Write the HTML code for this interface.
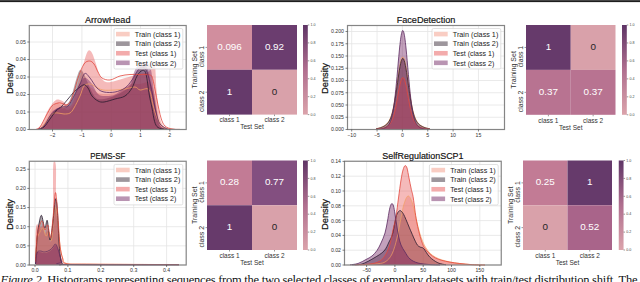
<!DOCTYPE html>
<html><head><meta charset="utf-8"><style>html,body{margin:0;padding:0;background:#fff;overflow:hidden}svg{display:block}</style></head>
<body><svg width="640" height="282" viewBox="0 0 640 282" font-family='"Liberation Sans", sans-serif'><rect x="0" y="0" width="640" height="282" fill="#fff"/>
<rect x="0" y="0" width="640" height="1" fill="#464646"/>
<rect x="0" y="1" width="640" height="1" fill="#1e1e1e"/>
<rect x="0" y="2" width="640" height="1" fill="#e6e6e6"/>
<rect x="29.3" y="25.5" width="156.89999999999998" height="104.0" fill="#fff"/>
<line x1="52.5" y1="25.5" x2="52.5" y2="129.5" stroke="#e4e4e4" stroke-width="0.8"/>
<line x1="81.9" y1="25.5" x2="81.9" y2="129.5" stroke="#e4e4e4" stroke-width="0.8"/>
<line x1="111.2" y1="25.5" x2="111.2" y2="129.5" stroke="#e4e4e4" stroke-width="0.8"/>
<line x1="140.5" y1="25.5" x2="140.5" y2="129.5" stroke="#e4e4e4" stroke-width="0.8"/>
<line x1="169.8" y1="25.5" x2="169.8" y2="129.5" stroke="#e4e4e4" stroke-width="0.8"/>
<line x1="29.3" y1="129.5" x2="186.2" y2="129.5" stroke="#e4e4e4" stroke-width="0.8"/>
<line x1="29.3" y1="112.0" x2="186.2" y2="112.0" stroke="#e4e4e4" stroke-width="0.8"/>
<line x1="29.3" y1="94.5" x2="186.2" y2="94.5" stroke="#e4e4e4" stroke-width="0.8"/>
<line x1="29.3" y1="77.0" x2="186.2" y2="77.0" stroke="#e4e4e4" stroke-width="0.8"/>
<line x1="29.3" y1="59.5" x2="186.2" y2="59.5" stroke="#e4e4e4" stroke-width="0.8"/>
<line x1="29.3" y1="42.0" x2="186.2" y2="42.0" stroke="#e4e4e4" stroke-width="0.8"/>
<path d="M40.00,129.40 C41.00,127.83 44.00,123.57 46.00,120.00 C48.00,116.43 50.17,110.83 52.00,108.00 C53.83,105.17 55.33,103.33 57.00,103.00 C58.67,102.67 60.17,104.83 62.00,106.00 C63.83,107.17 66.00,110.33 68.00,110.00 C70.00,109.67 72.00,107.00 74.00,104.00 C76.00,101.00 78.00,95.00 80.00,92.00 C82.00,89.00 84.00,86.67 86.00,86.00 C88.00,85.33 90.00,86.83 92.00,88.00 C94.00,89.17 95.33,92.00 98.00,93.00 C100.67,94.00 105.00,94.17 108.00,94.00 C111.00,93.83 113.33,93.00 116.00,92.00 C118.67,91.00 121.33,89.33 124.00,88.00 C126.67,86.67 129.33,84.67 132.00,84.00 C134.67,83.33 137.33,84.33 140.00,84.00 C142.67,83.67 146.00,81.67 148.00,82.00 C150.00,82.33 150.83,83.67 152.00,86.00 C153.17,88.33 154.00,91.00 155.00,96.00 C156.00,101.00 157.00,111.00 158.00,116.00 C159.00,121.00 159.33,123.77 161.00,126.00 C162.67,128.23 166.83,128.83 168.00,129.40 L168,129.5 L40,129.5 Z" fill="#f19381" fill-opacity="0.4"/><path d="M40.00,129.40 C41.00,128.50 44.00,126.57 46.00,124.00 C48.00,121.43 50.00,116.67 52.00,114.00 C54.00,111.33 56.00,109.33 58.00,108.00 C60.00,106.67 62.00,107.33 64.00,106.00 C66.00,104.67 68.00,104.33 70.00,100.00 C72.00,95.67 74.33,85.00 76.00,80.00 C77.67,75.00 78.67,71.00 80.00,70.00 C81.33,69.00 82.33,71.00 84.00,74.00 C85.67,77.00 88.00,84.00 90.00,88.00 C92.00,92.00 93.67,96.17 96.00,98.00 C98.33,99.83 101.00,99.33 104.00,99.00 C107.00,98.67 111.00,97.17 114.00,96.00 C117.00,94.83 119.33,93.67 122.00,92.00 C124.67,90.33 127.83,88.83 130.00,86.00 C132.17,83.17 133.33,78.00 135.00,75.00 C136.67,72.00 138.17,69.50 140.00,68.00 C141.83,66.50 144.33,64.33 146.00,66.00 C147.67,67.67 148.67,72.67 150.00,78.00 C151.33,83.33 152.83,91.67 154.00,98.00 C155.17,104.33 156.00,111.33 157.00,116.00 C158.00,120.67 158.50,123.77 160.00,126.00 C161.50,128.23 165.00,128.83 166.00,129.40 L166,129.5 L40,129.5 Z" fill="#352533" fill-opacity="0.4"/><path d="M36.00,129.40 C37.00,128.50 40.17,126.90 42.00,124.00 C43.83,121.10 45.33,115.33 47.00,112.00 C48.67,108.67 50.50,106.00 52.00,104.00 C53.50,102.00 54.67,100.67 56.00,100.00 C57.33,99.33 58.67,99.67 60.00,100.00 C61.33,100.33 62.67,101.00 64.00,102.00 C65.33,103.00 66.67,105.67 68.00,106.00 C69.33,106.33 70.67,106.33 72.00,104.00 C73.33,101.67 74.67,96.67 76.00,92.00 C77.33,87.33 78.67,81.00 80.00,76.00 C81.33,71.00 82.67,66.17 84.00,62.00 C85.33,57.83 86.67,52.50 88.00,51.00 C89.33,49.50 90.67,50.83 92.00,53.00 C93.33,55.17 94.67,60.17 96.00,64.00 C97.33,67.83 98.33,73.00 100.00,76.00 C101.67,79.00 103.50,81.17 106.00,82.00 C108.50,82.83 111.83,81.67 115.00,81.00 C118.17,80.33 122.17,78.83 125.00,78.00 C127.83,77.17 129.50,76.67 132.00,76.00 C134.50,75.33 137.33,74.67 140.00,74.00 C142.67,73.33 146.00,73.00 148.00,72.00 C150.00,71.00 150.83,69.00 152.00,68.00 C153.17,67.00 154.25,62.33 155.00,66.00 C155.75,69.67 155.83,82.33 156.50,90.00 C157.17,97.67 158.08,106.33 159.00,112.00 C159.92,117.67 160.50,121.33 162.00,124.00 C163.50,126.67 165.33,127.10 168.00,128.00 C170.67,128.90 176.33,129.17 178.00,129.40 L178,129.5 L36,129.5 Z" fill="#e55353" fill-opacity="0.4"/><path d="M40.00,129.40 C41.00,128.17 44.00,124.90 46.00,122.00 C48.00,119.10 50.00,114.33 52.00,112.00 C54.00,109.67 56.00,108.67 58.00,108.00 C60.00,107.33 62.00,108.67 64.00,108.00 C66.00,107.33 68.00,106.67 70.00,104.00 C72.00,101.33 74.00,96.00 76.00,92.00 C78.00,88.00 80.33,82.33 82.00,80.00 C83.67,77.67 84.33,77.33 86.00,78.00 C87.67,78.67 90.00,81.33 92.00,84.00 C94.00,86.67 95.83,92.00 98.00,94.00 C100.17,96.00 102.33,95.83 105.00,96.00 C107.67,96.17 111.17,96.00 114.00,95.00 C116.83,94.00 119.33,91.83 122.00,90.00 C124.67,88.17 127.83,87.33 130.00,84.00 C132.17,80.67 133.33,73.33 135.00,70.00 C136.67,66.67 138.00,65.17 140.00,64.00 C142.00,62.83 145.17,62.00 147.00,63.00 C148.83,64.00 149.83,65.17 151.00,70.00 C152.17,74.83 153.00,85.00 154.00,92.00 C155.00,99.00 156.00,106.50 157.00,112.00 C158.00,117.50 158.33,122.10 160.00,125.00 C161.67,127.90 165.83,128.67 167.00,129.40 L167,129.5 L40,129.5 Z" fill="#691557" fill-opacity="0.4"/><path d="M40.00,129.40 C41.00,128.17 44.00,124.57 46.00,122.00 C48.00,119.43 50.00,115.50 52.00,114.00 C54.00,112.50 56.00,113.00 58.00,113.00 C60.00,113.00 62.00,114.00 64.00,114.00 C66.00,114.00 68.33,114.00 70.00,113.00 C71.67,112.00 72.33,110.83 74.00,108.00 C75.67,105.17 78.33,99.67 80.00,96.00 C81.67,92.33 82.33,88.00 84.00,86.00 C85.67,84.00 88.00,83.83 90.00,84.00 C92.00,84.17 93.83,86.00 96.00,87.00 C98.17,88.00 99.83,89.50 103.00,90.00 C106.17,90.50 111.33,90.17 115.00,90.00 C118.67,89.83 121.67,89.50 125.00,89.00 C128.33,88.50 132.50,86.83 135.00,87.00 C137.50,87.17 137.67,89.57 140.00,90.00 C142.33,90.43 146.83,87.10 149.00,89.60 C151.17,92.10 151.67,100.27 153.00,105.00 C154.33,109.73 155.42,114.37 157.00,118.00 C158.58,121.63 160.67,124.97 162.50,126.80 C164.33,128.63 166.08,128.57 168.00,129.00 C169.92,129.43 173.00,129.33 174.00,129.40" fill="none" stroke="#f2a062" stroke-width="0.8"/><path d="M38.00,129.40 C39.00,129.00 42.00,128.73 44.00,127.00 C46.00,125.27 48.00,121.67 50.00,119.00 C52.00,116.33 54.00,113.17 56.00,111.00 C58.00,108.83 60.00,108.00 62.00,106.00 C64.00,104.00 66.00,101.33 68.00,99.00 C70.00,96.67 72.00,94.00 74.00,92.00 C76.00,90.00 78.30,88.20 80.00,87.00 C81.70,85.80 82.87,84.63 84.20,84.80 C85.53,84.97 86.70,86.13 88.00,88.00 C89.30,89.87 90.33,93.83 92.00,96.00 C93.67,98.17 96.00,100.00 98.00,101.00 C100.00,102.00 101.17,102.33 104.00,102.00 C106.83,101.67 111.50,100.00 115.00,99.00 C118.50,98.00 122.17,97.83 125.00,96.00 C127.83,94.17 130.00,91.33 132.00,88.00 C134.00,84.67 135.28,78.92 137.00,76.00 C138.72,73.08 140.80,70.83 142.30,70.50 C143.80,70.17 144.83,69.92 146.00,74.00 C147.17,78.08 148.30,89.33 149.30,95.00 C150.30,100.67 151.12,103.58 152.00,108.00 C152.88,112.42 153.60,118.25 154.60,121.50 C155.60,124.75 156.27,126.22 158.00,127.50 C159.73,128.78 162.17,128.88 165.00,129.20 C167.83,129.52 173.33,129.37 175.00,129.40" fill="none" stroke="#2a1a2e" stroke-width="0.8"/><path d="M36.00,129.40 C36.67,129.00 38.33,129.23 40.00,127.00 C41.67,124.77 44.00,119.50 46.00,116.00 C48.00,112.50 50.00,108.17 52.00,106.00 C54.00,103.83 56.33,103.43 58.00,103.00 C59.67,102.57 60.67,103.07 62.00,103.40 C63.33,103.73 64.67,105.23 66.00,105.00 C67.33,104.77 68.67,104.17 70.00,102.00 C71.33,99.83 72.67,96.00 74.00,92.00 C75.33,88.00 76.33,82.67 78.00,78.00 C79.67,73.33 82.07,66.83 84.00,64.00 C85.93,61.17 87.93,61.00 89.60,61.00 C91.27,61.00 92.60,62.17 94.00,64.00 C95.40,65.83 96.67,69.67 98.00,72.00 C99.33,74.33 100.00,76.67 102.00,78.00 C104.00,79.33 107.00,80.33 110.00,80.00 C113.00,79.67 116.67,76.92 120.00,76.00 C123.33,75.08 126.67,74.75 130.00,74.50 C133.33,74.25 136.67,74.42 140.00,74.50 C143.33,74.58 147.83,74.08 150.00,75.00 C152.17,75.92 151.83,75.83 153.00,80.00 C154.17,84.17 155.67,93.67 157.00,100.00 C158.33,106.33 159.67,113.67 161.00,118.00 C162.33,122.33 163.17,124.17 165.00,126.00 C166.83,127.83 169.50,128.43 172.00,129.00 C174.50,129.57 178.67,129.33 180.00,129.40" fill="none" stroke="#e2473e" stroke-width="0.8"/><path d="M38.00,129.40 C39.00,128.83 42.00,128.23 44.00,126.00 C46.00,123.77 48.00,118.67 50.00,116.00 C52.00,113.33 54.00,111.50 56.00,110.00 C58.00,108.50 60.00,107.67 62.00,107.00 C64.00,106.33 66.00,107.83 68.00,106.00 C70.00,104.17 72.00,99.67 74.00,96.00 C76.00,92.33 78.22,87.73 80.00,84.00 C81.78,80.27 83.03,74.60 84.70,73.60 C86.37,72.60 87.95,75.60 90.00,78.00 C92.05,80.40 94.67,85.67 97.00,88.00 C99.33,90.33 101.00,91.33 104.00,92.00 C107.00,92.67 111.50,92.67 115.00,92.00 C118.50,91.33 122.17,90.00 125.00,88.00 C127.83,86.00 129.83,83.00 132.00,80.00 C134.17,77.00 136.33,72.17 138.00,70.00 C139.67,67.83 140.50,66.67 142.00,67.00 C143.50,67.33 145.33,67.83 147.00,72.00 C148.67,76.17 150.50,85.33 152.00,92.00 C153.50,98.67 154.67,106.67 156.00,112.00 C157.33,117.33 158.00,121.10 160.00,124.00 C162.00,126.90 166.67,128.50 168.00,129.40" fill="none" stroke="#5a2a60" stroke-width="0.8"/>
<rect x="29.3" y="25.5" width="156.89999999999998" height="104.0" fill="none" stroke="#858585" stroke-width="1.2"/>
<line x1="52.5" y1="129.5" x2="52.5" y2="131.5" stroke="#333" stroke-width="0.6"/>
<text x="52.5" y="136.5" font-size="5.2" text-anchor="middle" fill="#333" >−2</text>
<line x1="81.9" y1="129.5" x2="81.9" y2="131.5" stroke="#333" stroke-width="0.6"/>
<text x="81.9" y="136.5" font-size="5.2" text-anchor="middle" fill="#333" >−1</text>
<line x1="111.2" y1="129.5" x2="111.2" y2="131.5" stroke="#333" stroke-width="0.6"/>
<text x="111.2" y="136.5" font-size="5.2" text-anchor="middle" fill="#333" >0</text>
<line x1="140.5" y1="129.5" x2="140.5" y2="131.5" stroke="#333" stroke-width="0.6"/>
<text x="140.5" y="136.5" font-size="5.2" text-anchor="middle" fill="#333" >1</text>
<line x1="169.8" y1="129.5" x2="169.8" y2="131.5" stroke="#333" stroke-width="0.6"/>
<text x="169.8" y="136.5" font-size="5.2" text-anchor="middle" fill="#333" >2</text>
<line x1="27.3" y1="129.5" x2="29.3" y2="129.5" stroke="#333" stroke-width="0.6"/>
<text x="25.8" y="131.4" font-size="5.2" text-anchor="end" fill="#333" >0.00</text>
<line x1="27.3" y1="112.0" x2="29.3" y2="112.0" stroke="#333" stroke-width="0.6"/>
<text x="25.8" y="113.9" font-size="5.2" text-anchor="end" fill="#333" >0.01</text>
<line x1="27.3" y1="94.5" x2="29.3" y2="94.5" stroke="#333" stroke-width="0.6"/>
<text x="25.8" y="96.4" font-size="5.2" text-anchor="end" fill="#333" >0.02</text>
<line x1="27.3" y1="77.0" x2="29.3" y2="77.0" stroke="#333" stroke-width="0.6"/>
<text x="25.8" y="78.9" font-size="5.2" text-anchor="end" fill="#333" >0.03</text>
<line x1="27.3" y1="59.5" x2="29.3" y2="59.5" stroke="#333" stroke-width="0.6"/>
<text x="25.8" y="61.4" font-size="5.2" text-anchor="end" fill="#333" >0.04</text>
<line x1="27.3" y1="42.0" x2="29.3" y2="42.0" stroke="#333" stroke-width="0.6"/>
<text x="25.8" y="43.9" font-size="5.2" text-anchor="end" fill="#333" >0.05</text>
<text x="107.75" y="23.0" font-size="9.3" text-anchor="middle" fill="#111" textLength="45.5" lengthAdjust="spacingAndGlyphs" stroke="#111" stroke-width="0.18">ArrowHead</text>
<text x="0" y="0" font-size="9.4" text-anchor="middle" fill="#111" textLength="31" lengthAdjust="spacingAndGlyphs" stroke="#111" stroke-width="0.22" transform="translate(13.1,78.5) rotate(-90)">Density</text>
<rect x="114" y="28.5" width="68.8" height="40.5" rx="1.5" fill="#fff" fill-opacity="0.8" stroke="#d4d4d4" stroke-width="0.7"/>
<rect x="116" y="31.8" width="13.7" height="4.6" fill="#f9cdc3"/>
<text x="134.8" y="36.85" font-size="7.3" text-anchor="start" fill="#222" textLength="45.5" lengthAdjust="spacingAndGlyphs" >Train (class 1)</text>
<rect x="116" y="41.370000000000005" width="13.7" height="4.6" fill="#9d969c"/>
<text x="134.8" y="46.42" font-size="7.3" text-anchor="start" fill="#222" textLength="45.5" lengthAdjust="spacingAndGlyphs" >Train (class 2)</text>
<rect x="116" y="50.940000000000005" width="13.7" height="4.6" fill="#f3abab"/>
<text x="134.8" y="55.99" font-size="7.3" text-anchor="start" fill="#222" textLength="41.5" lengthAdjust="spacingAndGlyphs" >Test (class 1)</text>
<rect x="116" y="60.510000000000005" width="13.7" height="4.6" fill="#b994b2"/>
<text x="134.8" y="65.56" font-size="7.3" text-anchor="start" fill="#222" textLength="41.5" lengthAdjust="spacingAndGlyphs" >Test (class 2)</text>
<rect x="207" y="25" width="45.0" height="44.8" fill="#d18e9e"/>
<text x="229.5" y="49.8" font-size="9.9" text-anchor="middle" fill="#fff" >0.096</text>
<rect x="252.0" y="25" width="45.0" height="44.8" fill="#6b3d6f"/>
<text x="274.5" y="49.8" font-size="9.9" text-anchor="middle" fill="#fff" >0.92</text>
<rect x="207" y="69.8" width="45.0" height="44.8" fill="#663a6b"/>
<text x="229.5" y="94.6" font-size="9.9" text-anchor="middle" fill="#fff" >1</text>
<rect x="252.0" y="69.8" width="45.0" height="44.8" fill="#d9a1aa"/>
<text x="274.5" y="94.6" font-size="9.9" text-anchor="middle" fill="#262626" >0</text>
<defs><linearGradient id="g20725" x1="0" y1="1" x2="0" y2="0"><stop offset="0" stop-color="#dba3ab"/><stop offset="0.5" stop-color="#b06f8f"/><stop offset="1" stop-color="#5f3566"/></linearGradient></defs>
<rect x="303" y="25" width="4.8" height="89.6" fill="url(#g20725)"/>
<line x1="307.8" y1="114.6" x2="309.3" y2="114.6" stroke="#333" stroke-width="0.5"/>
<text x="310.5" y="115.8" font-size="3.6" text-anchor="start" fill="#444" >0.0</text>
<line x1="307.8" y1="96.67999999999999" x2="309.3" y2="96.67999999999999" stroke="#333" stroke-width="0.5"/>
<text x="310.5" y="97.88" font-size="3.6" text-anchor="start" fill="#444" >0.2</text>
<line x1="307.8" y1="78.75999999999999" x2="309.3" y2="78.75999999999999" stroke="#333" stroke-width="0.5"/>
<text x="310.5" y="79.96" font-size="3.6" text-anchor="start" fill="#444" >0.4</text>
<line x1="307.8" y1="60.84" x2="309.3" y2="60.84" stroke="#333" stroke-width="0.5"/>
<text x="310.5" y="62.040000000000006" font-size="3.6" text-anchor="start" fill="#444" >0.6</text>
<line x1="307.8" y1="42.92" x2="309.3" y2="42.92" stroke="#333" stroke-width="0.5"/>
<text x="310.5" y="44.120000000000005" font-size="3.6" text-anchor="start" fill="#444" >0.8</text>
<line x1="307.8" y1="25.0" x2="309.3" y2="25.0" stroke="#333" stroke-width="0.5"/>
<text x="310.5" y="26.2" font-size="3.6" text-anchor="start" fill="#444" >1.0</text>
<line x1="229.5" y1="114.6" x2="229.5" y2="116.1" stroke="#333" stroke-width="0.5"/>
<text x="229.5" y="122.3" font-size="6.9" text-anchor="middle" fill="#333" textLength="20.2" lengthAdjust="spacingAndGlyphs" >class 1</text>
<line x1="274.5" y1="114.6" x2="274.5" y2="116.1" stroke="#333" stroke-width="0.5"/>
<text x="274.5" y="122.3" font-size="6.9" text-anchor="middle" fill="#333" textLength="20.2" lengthAdjust="spacingAndGlyphs" >class 2</text>
<text x="252.0" y="129.4" font-size="6.9" text-anchor="middle" fill="#333" textLength="23.5" lengthAdjust="spacingAndGlyphs" >Test Set</text>
<line x1="205.5" y1="47.4" x2="207" y2="47.4" stroke="#333" stroke-width="0.5"/>
<text x="0" y="0" font-size="6.9" text-anchor="end" fill="#333" textLength="21.5" lengthAdjust="spacingAndGlyphs"  transform="translate(204.4,45.8) rotate(-90)">class 1</text>
<line x1="205.5" y1="92.19999999999999" x2="207" y2="92.19999999999999" stroke="#333" stroke-width="0.5"/>
<text x="0" y="0" font-size="6.9" text-anchor="end" fill="#333" textLength="21.5" lengthAdjust="spacingAndGlyphs"  transform="translate(204.4,90.6) rotate(-90)">class 2</text>
<text x="0" y="0" font-size="6.9" text-anchor="middle" fill="#333" textLength="37.5" lengthAdjust="spacingAndGlyphs"  transform="translate(196.6,69.8) rotate(-90)">Training Set</text>
<rect x="347.5" y="25.5" width="157.0" height="104.0" fill="#fff"/>
<line x1="351.7" y1="25.5" x2="351.7" y2="129.5" stroke="#e4e4e4" stroke-width="0.8"/>
<line x1="377.05" y1="25.5" x2="377.05" y2="129.5" stroke="#e4e4e4" stroke-width="0.8"/>
<line x1="402.4" y1="25.5" x2="402.4" y2="129.5" stroke="#e4e4e4" stroke-width="0.8"/>
<line x1="427.75" y1="25.5" x2="427.75" y2="129.5" stroke="#e4e4e4" stroke-width="0.8"/>
<line x1="453.1" y1="25.5" x2="453.1" y2="129.5" stroke="#e4e4e4" stroke-width="0.8"/>
<line x1="478.45" y1="25.5" x2="478.45" y2="129.5" stroke="#e4e4e4" stroke-width="0.8"/>
<line x1="347.5" y1="129.5" x2="504.5" y2="129.5" stroke="#e4e4e4" stroke-width="0.8"/>
<line x1="347.5" y1="117.25" x2="504.5" y2="117.25" stroke="#e4e4e4" stroke-width="0.8"/>
<line x1="347.5" y1="105.0" x2="504.5" y2="105.0" stroke="#e4e4e4" stroke-width="0.8"/>
<line x1="347.5" y1="92.75" x2="504.5" y2="92.75" stroke="#e4e4e4" stroke-width="0.8"/>
<line x1="347.5" y1="80.5" x2="504.5" y2="80.5" stroke="#e4e4e4" stroke-width="0.8"/>
<line x1="347.5" y1="68.25" x2="504.5" y2="68.25" stroke="#e4e4e4" stroke-width="0.8"/>
<line x1="347.5" y1="56.0" x2="504.5" y2="56.0" stroke="#e4e4e4" stroke-width="0.8"/>
<line x1="347.5" y1="43.75" x2="504.5" y2="43.75" stroke="#e4e4e4" stroke-width="0.8"/>
<line x1="347.5" y1="31.5" x2="504.5" y2="31.5" stroke="#e4e4e4" stroke-width="0.8"/>
<path d="M376.00,128.70 C376.10,128.68 376.40,128.63 376.60,128.59 C376.80,128.55 377.00,128.51 377.20,128.47 C377.40,128.43 377.60,128.39 377.80,128.34 C378.00,128.29 378.20,128.24 378.40,128.19 C378.60,128.14 378.80,128.08 379.00,128.02 C379.20,127.96 379.40,127.90 379.60,127.84 C379.80,127.78 380.00,127.72 380.20,127.65 C380.40,127.58 380.60,127.51 380.80,127.43 C381.00,127.36 381.20,127.28 381.40,127.20 C381.60,127.12 381.80,127.03 382.00,126.94 C382.20,126.85 382.40,126.77 382.60,126.67 C382.80,126.57 383.00,126.47 383.20,126.36 C383.40,126.25 383.60,126.15 383.80,126.03 C384.00,125.91 384.20,125.79 384.40,125.66 C384.60,125.53 384.80,125.40 385.00,125.26 C385.20,125.12 385.40,124.97 385.60,124.81 C385.80,124.65 386.00,124.48 386.20,124.30 C386.40,124.12 386.60,123.93 386.80,123.73 C387.00,123.53 387.20,123.31 387.40,123.08 C387.60,122.85 387.80,122.60 388.00,122.33 C388.20,122.06 388.40,121.78 388.60,121.47 C388.80,121.16 389.00,120.83 389.20,120.47 C389.40,120.11 389.60,119.73 389.80,119.31 C390.00,118.89 390.20,118.44 390.40,117.95 C390.60,117.46 390.80,116.94 391.00,116.37 C391.20,115.80 391.40,115.20 391.60,114.54 C391.80,113.89 392.00,113.19 392.20,112.44 C392.40,111.69 392.60,110.88 392.80,110.03 C393.00,109.18 393.20,108.28 393.40,107.32 C393.60,106.36 393.80,105.35 394.00,104.28 C394.20,103.21 394.40,102.09 394.60,100.92 C394.80,99.75 395.00,98.53 395.20,97.27 C395.40,96.01 395.60,94.70 395.80,93.36 C396.00,92.02 396.20,90.63 396.40,89.23 C396.60,87.83 396.80,86.40 397.00,84.97 C397.20,83.54 397.40,82.09 397.60,80.66 C397.80,79.23 398.00,77.79 398.20,76.39 C398.40,74.99 398.60,73.60 398.80,72.28 C399.00,70.96 399.20,69.66 399.40,68.45 C399.60,67.24 399.80,66.07 400.00,65.01 C400.20,63.95 400.40,62.95 400.60,62.07 C400.80,61.19 401.00,60.39 401.20,59.73 C401.40,59.06 401.60,58.51 401.80,58.08 C402.00,57.65 402.20,57.34 402.40,57.17 C402.60,57.00 402.80,56.95 403.00,57.04 C403.20,57.13 403.40,57.35 403.60,57.69 C403.80,58.03 404.00,58.51 404.20,59.10 C404.40,59.69 404.60,60.41 404.80,61.22 C405.00,62.03 405.20,62.96 405.40,63.97 C405.60,64.97 405.80,66.08 406.00,67.25 C406.20,68.42 406.40,69.68 406.60,70.97 C406.80,72.26 407.00,73.62 407.20,75.00 C407.40,76.38 407.60,77.80 407.80,79.22 C408.00,80.64 408.20,82.10 408.40,83.53 C408.60,84.96 408.80,86.41 409.00,87.82 C409.20,89.23 409.40,90.64 409.60,92.00 C409.80,93.36 410.00,94.70 410.20,95.99 C410.40,97.28 410.60,98.54 410.80,99.74 C411.00,100.94 411.20,102.09 411.40,103.19 C411.60,104.29 411.80,105.34 412.00,106.34 C412.20,107.34 412.40,108.27 412.60,109.16 C412.80,110.05 413.00,110.89 413.20,111.67 C413.40,112.45 413.60,113.18 413.80,113.87 C414.00,114.56 414.20,115.19 414.40,115.79 C414.60,116.39 414.80,116.94 415.00,117.45 C415.20,117.97 415.40,118.44 415.60,118.88 C415.80,119.32 416.00,119.72 416.20,120.10 C416.40,120.48 416.60,120.83 416.80,121.16 C417.00,121.49 417.20,121.78 417.40,122.06 C417.60,122.34 417.80,122.60 418.00,122.84 C418.20,123.08 418.40,123.31 418.60,123.52 C418.80,123.73 419.00,123.93 419.20,124.12 C419.40,124.31 419.60,124.49 419.80,124.65 C420.00,124.81 420.20,124.96 420.40,125.11 C420.60,125.26 420.80,125.40 421.00,125.53 C421.20,125.66 421.40,125.79 421.60,125.91 C421.80,126.03 422.00,126.14 422.20,126.25 C422.40,126.36 422.60,126.47 422.80,126.57 C423.00,126.67 423.20,126.76 423.40,126.85 C423.60,126.94 423.80,127.03 424.00,127.12 C424.20,127.21 424.40,127.28 424.60,127.36 C424.80,127.44 425.00,127.51 425.20,127.58 C425.40,127.65 425.60,127.72 425.80,127.78 C426.00,127.84 426.20,127.91 426.40,127.97 C426.60,128.03 426.80,128.08 427.00,128.13 C427.20,128.18 427.40,128.24 427.60,128.29 C427.80,128.34 428.00,128.39 428.20,128.43 C428.40,128.47 428.60,128.51 428.80,128.55 C429.00,128.59 429.20,128.63 429.40,128.67 C429.60,128.71 429.90,128.75 430.00,128.77 L430.0,129.5 L376,129.5 Z" fill="#f19381" fill-opacity="0.4"/><path d="M376.00,128.80 C376.10,128.78 376.40,128.73 376.60,128.70 C376.80,128.66 377.00,128.63 377.20,128.59 C377.40,128.55 377.60,128.51 377.80,128.47 C378.00,128.43 378.20,128.38 378.40,128.33 C378.60,128.28 378.80,128.23 379.00,128.18 C379.20,128.13 379.40,128.07 379.60,128.01 C379.80,127.95 380.00,127.89 380.20,127.83 C380.40,127.77 380.60,127.70 380.80,127.63 C381.00,127.56 381.20,127.49 381.40,127.41 C381.60,127.33 381.80,127.25 382.00,127.17 C382.20,127.09 382.40,126.99 382.60,126.90 C382.80,126.81 383.00,126.72 383.20,126.62 C383.40,126.52 383.60,126.41 383.80,126.30 C384.00,126.19 384.20,126.08 384.40,125.96 C384.60,125.84 384.80,125.72 385.00,125.58 C385.20,125.44 385.40,125.30 385.60,125.15 C385.80,125.00 386.00,124.85 386.20,124.68 C386.40,124.51 386.60,124.34 386.80,124.15 C387.00,123.96 387.20,123.76 387.40,123.54 C387.60,123.32 387.80,123.09 388.00,122.84 C388.20,122.59 388.40,122.33 388.60,122.04 C388.80,121.75 389.00,121.44 389.20,121.10 C389.40,120.76 389.60,120.40 389.80,120.01 C390.00,119.62 390.20,119.20 390.40,118.74 C390.60,118.28 390.80,117.79 391.00,117.25 C391.20,116.71 391.40,116.14 391.60,115.52 C391.80,114.90 392.00,114.24 392.20,113.52 C392.40,112.80 392.60,112.04 392.80,111.22 C393.00,110.40 393.20,109.53 393.40,108.61 C393.60,107.69 393.80,106.70 394.00,105.67 C394.20,104.64 394.40,103.55 394.60,102.41 C394.80,101.27 395.00,100.07 395.20,98.83 C395.40,97.59 395.60,96.30 395.80,94.98 C396.00,93.66 396.20,92.29 396.40,90.91 C396.60,89.53 396.80,88.10 397.00,86.68 C397.20,85.26 397.40,83.80 397.60,82.37 C397.80,80.94 398.00,79.50 398.20,78.10 C398.40,76.70 398.60,75.30 398.80,73.97 C399.00,72.64 399.20,71.32 399.40,70.10 C399.60,68.88 399.80,67.70 400.00,66.62 C400.20,65.55 400.40,64.54 400.60,63.65 C400.80,62.76 401.00,61.95 401.20,61.28 C401.40,60.61 401.60,60.03 401.80,59.60 C402.00,59.17 402.20,58.86 402.40,58.68 C402.60,58.50 402.80,58.45 403.00,58.54 C403.20,58.63 403.40,58.86 403.60,59.21 C403.80,59.56 404.00,60.04 404.20,60.64 C404.40,61.24 404.60,61.97 404.80,62.79 C405.00,63.61 405.20,64.55 405.40,65.57 C405.60,66.59 405.80,67.71 406.00,68.89 C406.20,70.07 406.40,71.34 406.60,72.64 C406.80,73.94 407.00,75.32 407.20,76.70 C407.40,78.08 407.60,79.52 407.80,80.94 C408.00,82.36 408.20,83.81 408.40,85.24 C408.60,86.67 408.80,88.11 409.00,89.51 C409.20,90.91 409.40,92.31 409.60,93.65 C409.80,95.00 410.00,96.31 410.20,97.58 C410.40,98.85 410.60,100.08 410.80,101.25 C411.00,102.42 411.20,103.55 411.40,104.62 C411.60,105.69 411.80,106.71 412.00,107.67 C412.20,108.63 412.40,109.54 412.60,110.39 C412.80,111.24 413.00,112.04 413.20,112.79 C413.40,113.54 413.60,114.24 413.80,114.89 C414.00,115.54 414.20,116.14 414.40,116.70 C414.60,117.26 414.80,117.78 415.00,118.27 C415.20,118.75 415.40,119.19 415.60,119.61 C415.80,120.03 416.00,120.41 416.20,120.76 C416.40,121.12 416.60,121.44 416.80,121.74 C417.00,122.04 417.20,122.33 417.40,122.59 C417.60,122.85 417.80,123.09 418.00,123.32 C418.20,123.55 418.40,123.75 418.60,123.95 C418.80,124.15 419.00,124.34 419.20,124.51 C419.40,124.69 419.60,124.84 419.80,125.00 C420.00,125.16 420.20,125.30 420.40,125.44 C420.60,125.58 420.80,125.70 421.00,125.83 C421.20,125.95 421.40,126.08 421.60,126.19 C421.80,126.30 422.00,126.42 422.20,126.52 C422.40,126.62 422.60,126.72 422.80,126.81 C423.00,126.90 423.20,126.99 423.40,127.08 C423.60,127.17 423.80,127.25 424.00,127.33 C424.20,127.41 424.40,127.49 424.60,127.56 C424.80,127.63 425.00,127.70 425.20,127.76 C425.40,127.83 425.60,127.89 425.80,127.95 C426.00,128.01 426.20,128.06 426.40,128.12 C426.60,128.18 426.80,128.23 427.00,128.28 C427.20,128.33 427.40,128.38 427.60,128.42 C427.80,128.46 428.00,128.51 428.20,128.55 C428.40,128.59 428.60,128.63 428.80,128.67 C429.00,128.71 429.20,128.74 429.40,128.77 C429.60,128.80 429.90,128.85 430.00,128.86 L430.0,129.5 L376,129.5 Z" fill="#352533" fill-opacity="0.4"/><path d="M376.00,129.26 C376.10,129.25 376.40,129.24 376.60,129.22 C376.80,129.20 377.00,129.19 377.20,129.17 C377.40,129.15 377.60,129.13 377.80,129.11 C378.00,129.09 378.20,129.06 378.40,129.04 C378.60,129.02 378.80,129.00 379.00,128.97 C379.20,128.94 379.40,128.91 379.60,128.88 C379.80,128.85 380.00,128.82 380.20,128.79 C380.40,128.76 380.60,128.72 380.80,128.68 C381.00,128.64 381.20,128.60 381.40,128.56 C381.60,128.52 381.80,128.48 382.00,128.43 C382.20,128.38 382.40,128.33 382.60,128.28 C382.80,128.23 383.00,128.17 383.20,128.11 C383.40,128.05 383.60,127.98 383.80,127.92 C384.00,127.86 384.20,127.79 384.40,127.72 C384.60,127.65 384.80,127.57 385.00,127.49 C385.20,127.41 385.40,127.32 385.60,127.23 C385.80,127.14 386.00,127.04 386.20,126.94 C386.40,126.84 386.60,126.73 386.80,126.61 C387.00,126.49 387.20,126.37 387.40,126.24 C387.60,126.11 387.80,125.97 388.00,125.82 C388.20,125.67 388.40,125.51 388.60,125.33 C388.80,125.15 389.00,124.96 389.20,124.75 C389.40,124.54 389.60,124.33 389.80,124.08 C390.00,123.83 390.20,123.57 390.40,123.28 C390.60,122.99 390.80,122.68 391.00,122.34 C391.20,122.00 391.40,121.64 391.60,121.24 C391.80,120.84 392.00,120.41 392.20,119.94 C392.40,119.47 392.60,118.96 392.80,118.41 C393.00,117.86 393.20,117.28 393.40,116.65 C393.60,116.02 393.80,115.34 394.00,114.62 C394.20,113.90 394.40,113.13 394.60,112.32 C394.80,111.51 395.00,110.66 395.20,109.76 C395.40,108.86 395.60,107.92 395.80,106.94 C396.00,105.96 396.20,104.95 396.40,103.90 C396.60,102.86 396.80,101.76 397.00,100.67 C397.20,99.58 397.40,98.46 397.60,97.34 C397.80,96.22 398.00,95.08 398.20,93.97 C398.40,92.86 398.60,91.74 398.80,90.66 C399.00,89.58 399.20,88.52 399.40,87.51 C399.60,86.51 399.80,85.53 400.00,84.63 C400.20,83.73 400.40,82.88 400.60,82.12 C400.80,81.36 401.00,80.68 401.20,80.09 C401.40,79.50 401.60,78.99 401.80,78.60 C402.00,78.21 402.20,77.91 402.40,77.73 C402.60,77.55 402.80,77.47 403.00,77.51 C403.20,77.55 403.40,77.70 403.60,77.95 C403.80,78.20 404.00,78.57 404.20,79.03 C404.40,79.49 404.60,80.06 404.80,80.71 C405.00,81.36 405.20,82.10 405.40,82.91 C405.60,83.72 405.80,84.61 406.00,85.55 C406.20,86.49 406.40,87.50 406.60,88.53 C406.80,89.56 407.00,90.66 407.20,91.75 C407.40,92.84 407.60,93.97 407.80,95.09 C408.00,96.21 408.20,97.35 408.40,98.46 C408.60,99.57 408.80,100.68 409.00,101.76 C409.20,102.84 409.40,103.91 409.60,104.93 C409.80,105.96 410.00,106.96 410.20,107.91 C410.40,108.86 410.60,109.77 410.80,110.64 C411.00,111.51 411.20,112.34 411.40,113.12 C411.60,113.90 411.80,114.64 412.00,115.33 C412.20,116.02 412.40,116.66 412.60,117.26 C412.80,117.86 413.00,118.43 413.20,118.95 C413.40,119.47 413.60,119.94 413.80,120.39 C414.00,120.84 414.20,121.25 414.40,121.63 C414.60,122.01 414.80,122.35 415.00,122.67 C415.20,122.99 415.40,123.29 415.60,123.56 C415.80,123.83 416.00,124.08 416.20,124.31 C416.40,124.54 416.60,124.75 416.80,124.95 C417.00,125.15 417.20,125.33 417.40,125.50 C417.60,125.67 417.80,125.83 418.00,125.97 C418.20,126.11 418.40,126.24 418.60,126.37 C418.80,126.50 419.00,126.62 419.20,126.73 C419.40,126.84 419.60,126.94 419.80,127.04 C420.00,127.14 420.20,127.23 420.40,127.32 C420.60,127.41 420.80,127.49 421.00,127.57 C421.20,127.65 421.40,127.72 421.60,127.79 C421.80,127.86 422.00,127.93 422.20,127.99 C422.40,128.05 422.60,128.11 422.80,128.17 C423.00,128.23 423.20,128.28 423.40,128.33 C423.60,128.38 423.80,128.43 424.00,128.47 C424.20,128.51 424.40,128.56 424.60,128.60 C424.80,128.64 425.00,128.68 425.20,128.72 C425.40,128.76 425.60,128.79 425.80,128.82 C426.00,128.85 426.20,128.88 426.40,128.91 C426.60,128.94 426.80,128.96 427.00,128.99 C427.20,129.02 427.40,129.05 427.60,129.07 C427.80,129.09 428.00,129.11 428.20,129.13 C428.40,129.15 428.60,129.16 428.80,129.18 C429.00,129.20 429.20,129.21 429.40,129.23 C429.60,129.25 429.90,129.26 430.00,129.27 L430.0,129.5 L376,129.5 Z" fill="#e55353" fill-opacity="0.4"/><path d="M376.00,129.38 C376.10,129.38 376.40,129.37 376.60,129.36 C376.80,129.35 377.00,129.33 377.20,129.32 C377.40,129.31 377.60,129.30 377.80,129.29 C378.00,129.28 378.20,129.26 378.40,129.24 C378.60,129.22 378.80,129.21 379.00,129.19 C379.20,129.17 379.40,129.15 379.60,129.13 C379.80,129.11 380.00,129.08 380.20,129.05 C380.40,129.02 380.60,129.00 380.80,128.97 C381.00,128.94 381.20,128.91 381.40,128.87 C381.60,128.83 381.80,128.79 382.00,128.75 C382.20,128.71 382.40,128.67 382.60,128.62 C382.80,128.57 383.00,128.53 383.20,128.47 C383.40,128.41 383.60,128.35 383.80,128.29 C384.00,128.22 384.20,128.16 384.40,128.08 C384.60,128.00 384.80,127.92 385.00,127.83 C385.20,127.74 385.40,127.65 385.60,127.54 C385.80,127.44 386.00,127.33 386.20,127.20 C386.40,127.08 386.60,126.94 386.80,126.79 C387.00,126.64 387.20,126.48 387.40,126.29 C387.60,126.11 387.80,125.91 388.00,125.68 C388.20,125.46 388.40,125.22 388.60,124.94 C388.80,124.66 389.00,124.37 389.20,124.03 C389.40,123.69 389.60,123.33 389.80,122.91 C390.00,122.49 390.20,122.04 390.40,121.53 C390.60,121.02 390.80,120.47 391.00,119.85 C391.20,119.23 391.40,118.55 391.60,117.80 C391.80,117.05 392.00,116.24 392.20,115.34 C392.40,114.44 392.60,113.47 392.80,112.40 C393.00,111.33 393.20,110.18 393.40,108.93 C393.60,107.68 393.80,106.35 394.00,104.91 C394.20,103.47 394.40,101.94 394.60,100.31 C394.80,98.68 395.00,96.95 395.20,95.14 C395.40,93.33 395.60,91.41 395.80,89.43 C396.00,87.45 396.20,85.36 396.40,83.24 C396.60,81.12 396.80,78.91 397.00,76.69 C397.20,74.47 397.40,72.18 397.60,69.91 C397.80,67.64 398.00,65.32 398.20,63.06 C398.40,60.80 398.60,58.53 398.80,56.35 C399.00,54.17 399.20,52.01 399.40,49.99 C399.60,47.97 399.80,46.01 400.00,44.21 C400.20,42.41 400.40,40.72 400.60,39.22 C400.80,37.72 401.00,36.36 401.20,35.22 C401.40,34.08 401.60,33.11 401.80,32.37 C402.00,31.63 402.20,31.10 402.40,30.80 C402.60,30.50 402.80,30.43 403.00,30.58 C403.20,30.73 403.40,31.11 403.60,31.70 C403.80,32.29 404.00,33.12 404.20,34.13 C404.40,35.14 404.60,36.37 404.80,37.76 C405.00,39.15 405.20,40.75 405.40,42.45 C405.60,44.16 405.80,46.04 406.00,47.99 C406.20,49.95 406.40,52.05 406.60,54.18 C406.80,56.31 407.00,58.56 407.20,60.80 C407.40,63.04 407.60,65.34 407.80,67.62 C408.00,69.90 408.20,72.20 408.40,74.45 C408.60,76.70 408.80,78.93 409.00,81.09 C409.20,83.25 409.40,85.38 409.60,87.41 C409.80,89.44 410.00,91.42 410.20,93.29 C410.40,95.16 410.60,96.96 410.80,98.65 C411.00,100.34 411.20,101.94 411.40,103.44 C411.60,104.94 411.80,106.35 412.00,107.66 C412.20,108.97 412.40,110.17 412.60,111.30 C412.80,112.42 413.00,113.45 413.20,114.41 C413.40,115.36 413.60,116.23 413.80,117.03 C414.00,117.83 414.20,118.55 414.40,119.21 C414.60,119.87 414.80,120.47 415.00,121.01 C415.20,121.56 415.40,122.03 415.60,122.48 C415.80,122.93 416.00,123.32 416.20,123.68 C416.40,124.04 416.60,124.36 416.80,124.66 C417.00,124.95 417.20,125.21 417.40,125.45 C417.60,125.69 417.80,125.90 418.00,126.10 C418.20,126.30 418.40,126.47 418.60,126.63 C418.80,126.79 419.00,126.94 419.20,127.07 C419.40,127.20 419.60,127.32 419.80,127.43 C420.00,127.54 420.20,127.64 420.40,127.74 C420.60,127.83 420.80,127.92 421.00,128.00 C421.20,128.08 421.40,128.15 421.60,128.22 C421.80,128.29 422.00,128.35 422.20,128.41 C422.40,128.47 422.60,128.52 422.80,128.57 C423.00,128.62 423.20,128.67 423.40,128.71 C423.60,128.75 423.80,128.79 424.00,128.83 C424.20,128.87 424.40,128.91 424.60,128.94 C424.80,128.97 425.00,129.00 425.20,129.03 C425.40,129.06 425.60,129.08 425.80,129.10 C426.00,129.12 426.20,129.15 426.40,129.17 C426.60,129.19 426.80,129.20 427.00,129.22 C427.20,129.24 427.40,129.25 427.60,129.27 C427.80,129.29 428.00,129.30 428.20,129.31 C428.40,129.32 428.60,129.34 428.80,129.35 C429.00,129.36 429.20,129.36 429.40,129.37 C429.60,129.38 429.90,129.40 430.00,129.40 L430.0,129.5 L376,129.5 Z" fill="#691557" fill-opacity="0.4"/><path d="M376.00,128.70 C376.10,128.68 376.40,128.63 376.60,128.59 C376.80,128.55 377.00,128.51 377.20,128.47 C377.40,128.43 377.60,128.39 377.80,128.34 C378.00,128.29 378.20,128.24 378.40,128.19 C378.60,128.14 378.80,128.08 379.00,128.02 C379.20,127.96 379.40,127.90 379.60,127.84 C379.80,127.78 380.00,127.72 380.20,127.65 C380.40,127.58 380.60,127.51 380.80,127.43 C381.00,127.36 381.20,127.28 381.40,127.20 C381.60,127.12 381.80,127.03 382.00,126.94 C382.20,126.85 382.40,126.77 382.60,126.67 C382.80,126.57 383.00,126.47 383.20,126.36 C383.40,126.25 383.60,126.15 383.80,126.03 C384.00,125.91 384.20,125.79 384.40,125.66 C384.60,125.53 384.80,125.40 385.00,125.26 C385.20,125.12 385.40,124.97 385.60,124.81 C385.80,124.65 386.00,124.48 386.20,124.30 C386.40,124.12 386.60,123.93 386.80,123.73 C387.00,123.53 387.20,123.31 387.40,123.08 C387.60,122.85 387.80,122.60 388.00,122.33 C388.20,122.06 388.40,121.78 388.60,121.47 C388.80,121.16 389.00,120.83 389.20,120.47 C389.40,120.11 389.60,119.73 389.80,119.31 C390.00,118.89 390.20,118.44 390.40,117.95 C390.60,117.46 390.80,116.94 391.00,116.37 C391.20,115.80 391.40,115.20 391.60,114.54 C391.80,113.89 392.00,113.19 392.20,112.44 C392.40,111.69 392.60,110.88 392.80,110.03 C393.00,109.18 393.20,108.28 393.40,107.32 C393.60,106.36 393.80,105.35 394.00,104.28 C394.20,103.21 394.40,102.09 394.60,100.92 C394.80,99.75 395.00,98.53 395.20,97.27 C395.40,96.01 395.60,94.70 395.80,93.36 C396.00,92.02 396.20,90.63 396.40,89.23 C396.60,87.83 396.80,86.40 397.00,84.97 C397.20,83.54 397.40,82.09 397.60,80.66 C397.80,79.23 398.00,77.79 398.20,76.39 C398.40,74.99 398.60,73.60 398.80,72.28 C399.00,70.96 399.20,69.66 399.40,68.45 C399.60,67.24 399.80,66.07 400.00,65.01 C400.20,63.95 400.40,62.95 400.60,62.07 C400.80,61.19 401.00,60.39 401.20,59.73 C401.40,59.06 401.60,58.51 401.80,58.08 C402.00,57.65 402.20,57.34 402.40,57.17 C402.60,57.00 402.80,56.95 403.00,57.04 C403.20,57.13 403.40,57.35 403.60,57.69 C403.80,58.03 404.00,58.51 404.20,59.10 C404.40,59.69 404.60,60.41 404.80,61.22 C405.00,62.03 405.20,62.96 405.40,63.97 C405.60,64.97 405.80,66.08 406.00,67.25 C406.20,68.42 406.40,69.68 406.60,70.97 C406.80,72.26 407.00,73.62 407.20,75.00 C407.40,76.38 407.60,77.80 407.80,79.22 C408.00,80.64 408.20,82.10 408.40,83.53 C408.60,84.96 408.80,86.41 409.00,87.82 C409.20,89.23 409.40,90.64 409.60,92.00 C409.80,93.36 410.00,94.70 410.20,95.99 C410.40,97.28 410.60,98.54 410.80,99.74 C411.00,100.94 411.20,102.09 411.40,103.19 C411.60,104.29 411.80,105.34 412.00,106.34 C412.20,107.34 412.40,108.27 412.60,109.16 C412.80,110.05 413.00,110.89 413.20,111.67 C413.40,112.45 413.60,113.18 413.80,113.87 C414.00,114.56 414.20,115.19 414.40,115.79 C414.60,116.39 414.80,116.94 415.00,117.45 C415.20,117.97 415.40,118.44 415.60,118.88 C415.80,119.32 416.00,119.72 416.20,120.10 C416.40,120.48 416.60,120.83 416.80,121.16 C417.00,121.49 417.20,121.78 417.40,122.06 C417.60,122.34 417.80,122.60 418.00,122.84 C418.20,123.08 418.40,123.31 418.60,123.52 C418.80,123.73 419.00,123.93 419.20,124.12 C419.40,124.31 419.60,124.49 419.80,124.65 C420.00,124.81 420.20,124.96 420.40,125.11 C420.60,125.26 420.80,125.40 421.00,125.53 C421.20,125.66 421.40,125.79 421.60,125.91 C421.80,126.03 422.00,126.14 422.20,126.25 C422.40,126.36 422.60,126.47 422.80,126.57 C423.00,126.67 423.20,126.76 423.40,126.85 C423.60,126.94 423.80,127.03 424.00,127.12 C424.20,127.21 424.40,127.28 424.60,127.36 C424.80,127.44 425.00,127.51 425.20,127.58 C425.40,127.65 425.60,127.72 425.80,127.78 C426.00,127.84 426.20,127.91 426.40,127.97 C426.60,128.03 426.80,128.08 427.00,128.13 C427.20,128.18 427.40,128.24 427.60,128.29 C427.80,128.34 428.00,128.39 428.20,128.43 C428.40,128.47 428.60,128.51 428.80,128.55 C429.00,128.59 429.20,128.63 429.40,128.67 C429.60,128.71 429.90,128.75 430.00,128.77" fill="none" stroke="#f2a062" stroke-width="0.8"/><path d="M376.00,128.80 C376.10,128.78 376.40,128.73 376.60,128.70 C376.80,128.66 377.00,128.63 377.20,128.59 C377.40,128.55 377.60,128.51 377.80,128.47 C378.00,128.43 378.20,128.38 378.40,128.33 C378.60,128.28 378.80,128.23 379.00,128.18 C379.20,128.13 379.40,128.07 379.60,128.01 C379.80,127.95 380.00,127.89 380.20,127.83 C380.40,127.77 380.60,127.70 380.80,127.63 C381.00,127.56 381.20,127.49 381.40,127.41 C381.60,127.33 381.80,127.25 382.00,127.17 C382.20,127.09 382.40,126.99 382.60,126.90 C382.80,126.81 383.00,126.72 383.20,126.62 C383.40,126.52 383.60,126.41 383.80,126.30 C384.00,126.19 384.20,126.08 384.40,125.96 C384.60,125.84 384.80,125.72 385.00,125.58 C385.20,125.44 385.40,125.30 385.60,125.15 C385.80,125.00 386.00,124.85 386.20,124.68 C386.40,124.51 386.60,124.34 386.80,124.15 C387.00,123.96 387.20,123.76 387.40,123.54 C387.60,123.32 387.80,123.09 388.00,122.84 C388.20,122.59 388.40,122.33 388.60,122.04 C388.80,121.75 389.00,121.44 389.20,121.10 C389.40,120.76 389.60,120.40 389.80,120.01 C390.00,119.62 390.20,119.20 390.40,118.74 C390.60,118.28 390.80,117.79 391.00,117.25 C391.20,116.71 391.40,116.14 391.60,115.52 C391.80,114.90 392.00,114.24 392.20,113.52 C392.40,112.80 392.60,112.04 392.80,111.22 C393.00,110.40 393.20,109.53 393.40,108.61 C393.60,107.69 393.80,106.70 394.00,105.67 C394.20,104.64 394.40,103.55 394.60,102.41 C394.80,101.27 395.00,100.07 395.20,98.83 C395.40,97.59 395.60,96.30 395.80,94.98 C396.00,93.66 396.20,92.29 396.40,90.91 C396.60,89.53 396.80,88.10 397.00,86.68 C397.20,85.26 397.40,83.80 397.60,82.37 C397.80,80.94 398.00,79.50 398.20,78.10 C398.40,76.70 398.60,75.30 398.80,73.97 C399.00,72.64 399.20,71.32 399.40,70.10 C399.60,68.88 399.80,67.70 400.00,66.62 C400.20,65.55 400.40,64.54 400.60,63.65 C400.80,62.76 401.00,61.95 401.20,61.28 C401.40,60.61 401.60,60.03 401.80,59.60 C402.00,59.17 402.20,58.86 402.40,58.68 C402.60,58.50 402.80,58.45 403.00,58.54 C403.20,58.63 403.40,58.86 403.60,59.21 C403.80,59.56 404.00,60.04 404.20,60.64 C404.40,61.24 404.60,61.97 404.80,62.79 C405.00,63.61 405.20,64.55 405.40,65.57 C405.60,66.59 405.80,67.71 406.00,68.89 C406.20,70.07 406.40,71.34 406.60,72.64 C406.80,73.94 407.00,75.32 407.20,76.70 C407.40,78.08 407.60,79.52 407.80,80.94 C408.00,82.36 408.20,83.81 408.40,85.24 C408.60,86.67 408.80,88.11 409.00,89.51 C409.20,90.91 409.40,92.31 409.60,93.65 C409.80,95.00 410.00,96.31 410.20,97.58 C410.40,98.85 410.60,100.08 410.80,101.25 C411.00,102.42 411.20,103.55 411.40,104.62 C411.60,105.69 411.80,106.71 412.00,107.67 C412.20,108.63 412.40,109.54 412.60,110.39 C412.80,111.24 413.00,112.04 413.20,112.79 C413.40,113.54 413.60,114.24 413.80,114.89 C414.00,115.54 414.20,116.14 414.40,116.70 C414.60,117.26 414.80,117.78 415.00,118.27 C415.20,118.75 415.40,119.19 415.60,119.61 C415.80,120.03 416.00,120.41 416.20,120.76 C416.40,121.12 416.60,121.44 416.80,121.74 C417.00,122.04 417.20,122.33 417.40,122.59 C417.60,122.85 417.80,123.09 418.00,123.32 C418.20,123.55 418.40,123.75 418.60,123.95 C418.80,124.15 419.00,124.34 419.20,124.51 C419.40,124.69 419.60,124.84 419.80,125.00 C420.00,125.16 420.20,125.30 420.40,125.44 C420.60,125.58 420.80,125.70 421.00,125.83 C421.20,125.95 421.40,126.08 421.60,126.19 C421.80,126.30 422.00,126.42 422.20,126.52 C422.40,126.62 422.60,126.72 422.80,126.81 C423.00,126.90 423.20,126.99 423.40,127.08 C423.60,127.17 423.80,127.25 424.00,127.33 C424.20,127.41 424.40,127.49 424.60,127.56 C424.80,127.63 425.00,127.70 425.20,127.76 C425.40,127.83 425.60,127.89 425.80,127.95 C426.00,128.01 426.20,128.06 426.40,128.12 C426.60,128.18 426.80,128.23 427.00,128.28 C427.20,128.33 427.40,128.38 427.60,128.42 C427.80,128.46 428.00,128.51 428.20,128.55 C428.40,128.59 428.60,128.63 428.80,128.67 C429.00,128.71 429.20,128.74 429.40,128.77 C429.60,128.80 429.90,128.85 430.00,128.86" fill="none" stroke="#2a1a2e" stroke-width="0.8"/><path d="M376.00,129.26 C376.10,129.25 376.40,129.24 376.60,129.22 C376.80,129.20 377.00,129.19 377.20,129.17 C377.40,129.15 377.60,129.13 377.80,129.11 C378.00,129.09 378.20,129.06 378.40,129.04 C378.60,129.02 378.80,129.00 379.00,128.97 C379.20,128.94 379.40,128.91 379.60,128.88 C379.80,128.85 380.00,128.82 380.20,128.79 C380.40,128.76 380.60,128.72 380.80,128.68 C381.00,128.64 381.20,128.60 381.40,128.56 C381.60,128.52 381.80,128.48 382.00,128.43 C382.20,128.38 382.40,128.33 382.60,128.28 C382.80,128.23 383.00,128.17 383.20,128.11 C383.40,128.05 383.60,127.98 383.80,127.92 C384.00,127.86 384.20,127.79 384.40,127.72 C384.60,127.65 384.80,127.57 385.00,127.49 C385.20,127.41 385.40,127.32 385.60,127.23 C385.80,127.14 386.00,127.04 386.20,126.94 C386.40,126.84 386.60,126.73 386.80,126.61 C387.00,126.49 387.20,126.37 387.40,126.24 C387.60,126.11 387.80,125.97 388.00,125.82 C388.20,125.67 388.40,125.51 388.60,125.33 C388.80,125.15 389.00,124.96 389.20,124.75 C389.40,124.54 389.60,124.33 389.80,124.08 C390.00,123.83 390.20,123.57 390.40,123.28 C390.60,122.99 390.80,122.68 391.00,122.34 C391.20,122.00 391.40,121.64 391.60,121.24 C391.80,120.84 392.00,120.41 392.20,119.94 C392.40,119.47 392.60,118.96 392.80,118.41 C393.00,117.86 393.20,117.28 393.40,116.65 C393.60,116.02 393.80,115.34 394.00,114.62 C394.20,113.90 394.40,113.13 394.60,112.32 C394.80,111.51 395.00,110.66 395.20,109.76 C395.40,108.86 395.60,107.92 395.80,106.94 C396.00,105.96 396.20,104.95 396.40,103.90 C396.60,102.86 396.80,101.76 397.00,100.67 C397.20,99.58 397.40,98.46 397.60,97.34 C397.80,96.22 398.00,95.08 398.20,93.97 C398.40,92.86 398.60,91.74 398.80,90.66 C399.00,89.58 399.20,88.52 399.40,87.51 C399.60,86.51 399.80,85.53 400.00,84.63 C400.20,83.73 400.40,82.88 400.60,82.12 C400.80,81.36 401.00,80.68 401.20,80.09 C401.40,79.50 401.60,78.99 401.80,78.60 C402.00,78.21 402.20,77.91 402.40,77.73 C402.60,77.55 402.80,77.47 403.00,77.51 C403.20,77.55 403.40,77.70 403.60,77.95 C403.80,78.20 404.00,78.57 404.20,79.03 C404.40,79.49 404.60,80.06 404.80,80.71 C405.00,81.36 405.20,82.10 405.40,82.91 C405.60,83.72 405.80,84.61 406.00,85.55 C406.20,86.49 406.40,87.50 406.60,88.53 C406.80,89.56 407.00,90.66 407.20,91.75 C407.40,92.84 407.60,93.97 407.80,95.09 C408.00,96.21 408.20,97.35 408.40,98.46 C408.60,99.57 408.80,100.68 409.00,101.76 C409.20,102.84 409.40,103.91 409.60,104.93 C409.80,105.96 410.00,106.96 410.20,107.91 C410.40,108.86 410.60,109.77 410.80,110.64 C411.00,111.51 411.20,112.34 411.40,113.12 C411.60,113.90 411.80,114.64 412.00,115.33 C412.20,116.02 412.40,116.66 412.60,117.26 C412.80,117.86 413.00,118.43 413.20,118.95 C413.40,119.47 413.60,119.94 413.80,120.39 C414.00,120.84 414.20,121.25 414.40,121.63 C414.60,122.01 414.80,122.35 415.00,122.67 C415.20,122.99 415.40,123.29 415.60,123.56 C415.80,123.83 416.00,124.08 416.20,124.31 C416.40,124.54 416.60,124.75 416.80,124.95 C417.00,125.15 417.20,125.33 417.40,125.50 C417.60,125.67 417.80,125.83 418.00,125.97 C418.20,126.11 418.40,126.24 418.60,126.37 C418.80,126.50 419.00,126.62 419.20,126.73 C419.40,126.84 419.60,126.94 419.80,127.04 C420.00,127.14 420.20,127.23 420.40,127.32 C420.60,127.41 420.80,127.49 421.00,127.57 C421.20,127.65 421.40,127.72 421.60,127.79 C421.80,127.86 422.00,127.93 422.20,127.99 C422.40,128.05 422.60,128.11 422.80,128.17 C423.00,128.23 423.20,128.28 423.40,128.33 C423.60,128.38 423.80,128.43 424.00,128.47 C424.20,128.51 424.40,128.56 424.60,128.60 C424.80,128.64 425.00,128.68 425.20,128.72 C425.40,128.76 425.60,128.79 425.80,128.82 C426.00,128.85 426.20,128.88 426.40,128.91 C426.60,128.94 426.80,128.96 427.00,128.99 C427.20,129.02 427.40,129.05 427.60,129.07 C427.80,129.09 428.00,129.11 428.20,129.13 C428.40,129.15 428.60,129.16 428.80,129.18 C429.00,129.20 429.20,129.21 429.40,129.23 C429.60,129.25 429.90,129.26 430.00,129.27" fill="none" stroke="#e2473e" stroke-width="0.8"/><path d="M376.00,129.38 C376.10,129.38 376.40,129.37 376.60,129.36 C376.80,129.35 377.00,129.33 377.20,129.32 C377.40,129.31 377.60,129.30 377.80,129.29 C378.00,129.28 378.20,129.26 378.40,129.24 C378.60,129.22 378.80,129.21 379.00,129.19 C379.20,129.17 379.40,129.15 379.60,129.13 C379.80,129.11 380.00,129.08 380.20,129.05 C380.40,129.02 380.60,129.00 380.80,128.97 C381.00,128.94 381.20,128.91 381.40,128.87 C381.60,128.83 381.80,128.79 382.00,128.75 C382.20,128.71 382.40,128.67 382.60,128.62 C382.80,128.57 383.00,128.53 383.20,128.47 C383.40,128.41 383.60,128.35 383.80,128.29 C384.00,128.22 384.20,128.16 384.40,128.08 C384.60,128.00 384.80,127.92 385.00,127.83 C385.20,127.74 385.40,127.65 385.60,127.54 C385.80,127.44 386.00,127.33 386.20,127.20 C386.40,127.08 386.60,126.94 386.80,126.79 C387.00,126.64 387.20,126.48 387.40,126.29 C387.60,126.11 387.80,125.91 388.00,125.68 C388.20,125.46 388.40,125.22 388.60,124.94 C388.80,124.66 389.00,124.37 389.20,124.03 C389.40,123.69 389.60,123.33 389.80,122.91 C390.00,122.49 390.20,122.04 390.40,121.53 C390.60,121.02 390.80,120.47 391.00,119.85 C391.20,119.23 391.40,118.55 391.60,117.80 C391.80,117.05 392.00,116.24 392.20,115.34 C392.40,114.44 392.60,113.47 392.80,112.40 C393.00,111.33 393.20,110.18 393.40,108.93 C393.60,107.68 393.80,106.35 394.00,104.91 C394.20,103.47 394.40,101.94 394.60,100.31 C394.80,98.68 395.00,96.95 395.20,95.14 C395.40,93.33 395.60,91.41 395.80,89.43 C396.00,87.45 396.20,85.36 396.40,83.24 C396.60,81.12 396.80,78.91 397.00,76.69 C397.20,74.47 397.40,72.18 397.60,69.91 C397.80,67.64 398.00,65.32 398.20,63.06 C398.40,60.80 398.60,58.53 398.80,56.35 C399.00,54.17 399.20,52.01 399.40,49.99 C399.60,47.97 399.80,46.01 400.00,44.21 C400.20,42.41 400.40,40.72 400.60,39.22 C400.80,37.72 401.00,36.36 401.20,35.22 C401.40,34.08 401.60,33.11 401.80,32.37 C402.00,31.63 402.20,31.10 402.40,30.80 C402.60,30.50 402.80,30.43 403.00,30.58 C403.20,30.73 403.40,31.11 403.60,31.70 C403.80,32.29 404.00,33.12 404.20,34.13 C404.40,35.14 404.60,36.37 404.80,37.76 C405.00,39.15 405.20,40.75 405.40,42.45 C405.60,44.16 405.80,46.04 406.00,47.99 C406.20,49.95 406.40,52.05 406.60,54.18 C406.80,56.31 407.00,58.56 407.20,60.80 C407.40,63.04 407.60,65.34 407.80,67.62 C408.00,69.90 408.20,72.20 408.40,74.45 C408.60,76.70 408.80,78.93 409.00,81.09 C409.20,83.25 409.40,85.38 409.60,87.41 C409.80,89.44 410.00,91.42 410.20,93.29 C410.40,95.16 410.60,96.96 410.80,98.65 C411.00,100.34 411.20,101.94 411.40,103.44 C411.60,104.94 411.80,106.35 412.00,107.66 C412.20,108.97 412.40,110.17 412.60,111.30 C412.80,112.42 413.00,113.45 413.20,114.41 C413.40,115.36 413.60,116.23 413.80,117.03 C414.00,117.83 414.20,118.55 414.40,119.21 C414.60,119.87 414.80,120.47 415.00,121.01 C415.20,121.56 415.40,122.03 415.60,122.48 C415.80,122.93 416.00,123.32 416.20,123.68 C416.40,124.04 416.60,124.36 416.80,124.66 C417.00,124.95 417.20,125.21 417.40,125.45 C417.60,125.69 417.80,125.90 418.00,126.10 C418.20,126.30 418.40,126.47 418.60,126.63 C418.80,126.79 419.00,126.94 419.20,127.07 C419.40,127.20 419.60,127.32 419.80,127.43 C420.00,127.54 420.20,127.64 420.40,127.74 C420.60,127.83 420.80,127.92 421.00,128.00 C421.20,128.08 421.40,128.15 421.60,128.22 C421.80,128.29 422.00,128.35 422.20,128.41 C422.40,128.47 422.60,128.52 422.80,128.57 C423.00,128.62 423.20,128.67 423.40,128.71 C423.60,128.75 423.80,128.79 424.00,128.83 C424.20,128.87 424.40,128.91 424.60,128.94 C424.80,128.97 425.00,129.00 425.20,129.03 C425.40,129.06 425.60,129.08 425.80,129.10 C426.00,129.12 426.20,129.15 426.40,129.17 C426.60,129.19 426.80,129.20 427.00,129.22 C427.20,129.24 427.40,129.25 427.60,129.27 C427.80,129.29 428.00,129.30 428.20,129.31 C428.40,129.32 428.60,129.34 428.80,129.35 C429.00,129.36 429.20,129.36 429.40,129.37 C429.60,129.38 429.90,129.40 430.00,129.40" fill="none" stroke="#5a2a60" stroke-width="0.8"/>
<rect x="347.5" y="25.5" width="157.0" height="104.0" fill="none" stroke="#858585" stroke-width="1.2"/>
<line x1="351.7" y1="129.5" x2="351.7" y2="131.5" stroke="#333" stroke-width="0.6"/>
<text x="351.7" y="136.5" font-size="5.2" text-anchor="middle" fill="#333" >−10</text>
<line x1="377.05" y1="129.5" x2="377.05" y2="131.5" stroke="#333" stroke-width="0.6"/>
<text x="377.05" y="136.5" font-size="5.2" text-anchor="middle" fill="#333" >−5</text>
<line x1="402.4" y1="129.5" x2="402.4" y2="131.5" stroke="#333" stroke-width="0.6"/>
<text x="402.4" y="136.5" font-size="5.2" text-anchor="middle" fill="#333" >0</text>
<line x1="427.75" y1="129.5" x2="427.75" y2="131.5" stroke="#333" stroke-width="0.6"/>
<text x="427.75" y="136.5" font-size="5.2" text-anchor="middle" fill="#333" >5</text>
<line x1="453.1" y1="129.5" x2="453.1" y2="131.5" stroke="#333" stroke-width="0.6"/>
<text x="453.1" y="136.5" font-size="5.2" text-anchor="middle" fill="#333" >10</text>
<line x1="478.45" y1="129.5" x2="478.45" y2="131.5" stroke="#333" stroke-width="0.6"/>
<text x="478.45" y="136.5" font-size="5.2" text-anchor="middle" fill="#333" >15</text>
<line x1="345.5" y1="129.5" x2="347.5" y2="129.5" stroke="#333" stroke-width="0.6"/>
<text x="344.0" y="131.4" font-size="5.2" text-anchor="end" fill="#333" >0.000</text>
<line x1="345.5" y1="117.25" x2="347.5" y2="117.25" stroke="#333" stroke-width="0.6"/>
<text x="344.0" y="119.15" font-size="5.2" text-anchor="end" fill="#333" >0.025</text>
<line x1="345.5" y1="105.0" x2="347.5" y2="105.0" stroke="#333" stroke-width="0.6"/>
<text x="344.0" y="106.9" font-size="5.2" text-anchor="end" fill="#333" >0.050</text>
<line x1="345.5" y1="92.75" x2="347.5" y2="92.75" stroke="#333" stroke-width="0.6"/>
<text x="344.0" y="94.65" font-size="5.2" text-anchor="end" fill="#333" >0.075</text>
<line x1="345.5" y1="80.5" x2="347.5" y2="80.5" stroke="#333" stroke-width="0.6"/>
<text x="344.0" y="82.4" font-size="5.2" text-anchor="end" fill="#333" >0.100</text>
<line x1="345.5" y1="68.25" x2="347.5" y2="68.25" stroke="#333" stroke-width="0.6"/>
<text x="344.0" y="70.15" font-size="5.2" text-anchor="end" fill="#333" >0.125</text>
<line x1="345.5" y1="56.0" x2="347.5" y2="56.0" stroke="#333" stroke-width="0.6"/>
<text x="344.0" y="57.9" font-size="5.2" text-anchor="end" fill="#333" >0.150</text>
<line x1="345.5" y1="43.75" x2="347.5" y2="43.75" stroke="#333" stroke-width="0.6"/>
<text x="344.0" y="45.65" font-size="5.2" text-anchor="end" fill="#333" >0.175</text>
<line x1="345.5" y1="31.5" x2="347.5" y2="31.5" stroke="#333" stroke-width="0.6"/>
<text x="344.0" y="33.4" font-size="5.2" text-anchor="end" fill="#333" >0.200</text>
<text x="426.0" y="23.0" font-size="9.3" text-anchor="middle" fill="#111" textLength="58.7" lengthAdjust="spacingAndGlyphs" stroke="#111" stroke-width="0.18">FaceDetection</text>
<text x="0" y="0" font-size="9.4" text-anchor="middle" fill="#111" textLength="31" lengthAdjust="spacingAndGlyphs" stroke="#111" stroke-width="0.22" transform="translate(328,78.5) rotate(-90)">Density</text>
<rect x="432" y="28.5" width="68.8" height="40.5" rx="1.5" fill="#fff" fill-opacity="0.8" stroke="#d4d4d4" stroke-width="0.7"/>
<rect x="434" y="31.8" width="13.7" height="4.6" fill="#f9cdc3"/>
<text x="452.8" y="36.85" font-size="7.3" text-anchor="start" fill="#222" textLength="45.5" lengthAdjust="spacingAndGlyphs" >Train (class 1)</text>
<rect x="434" y="41.370000000000005" width="13.7" height="4.6" fill="#9d969c"/>
<text x="452.8" y="46.42" font-size="7.3" text-anchor="start" fill="#222" textLength="45.5" lengthAdjust="spacingAndGlyphs" >Train (class 2)</text>
<rect x="434" y="50.940000000000005" width="13.7" height="4.6" fill="#f3abab"/>
<text x="452.8" y="55.99" font-size="7.3" text-anchor="start" fill="#222" textLength="41.5" lengthAdjust="spacingAndGlyphs" >Test (class 1)</text>
<rect x="434" y="60.510000000000005" width="13.7" height="4.6" fill="#b994b2"/>
<text x="452.8" y="65.56" font-size="7.3" text-anchor="start" fill="#222" textLength="41.5" lengthAdjust="spacingAndGlyphs" >Test (class 2)</text>
<rect x="526" y="25" width="44.75" height="44.900000000000006" fill="#663a6b"/>
<text x="548.375" y="49.85" font-size="9.9" text-anchor="middle" fill="#fff" >1</text>
<rect x="570.75" y="25" width="44.75" height="44.900000000000006" fill="#d9a1aa"/>
<text x="593.125" y="49.85" font-size="9.9" text-anchor="middle" fill="#262626" >0</text>
<rect x="526" y="69.9" width="44.75" height="44.89999999999999" fill="#b87391"/>
<text x="548.375" y="94.75" font-size="9.9" text-anchor="middle" fill="#fff" >0.37</text>
<rect x="570.75" y="69.9" width="44.75" height="44.89999999999999" fill="#b87391"/>
<text x="593.125" y="94.75" font-size="9.9" text-anchor="middle" fill="#fff" >0.37</text>
<defs><linearGradient id="g52625" x1="0" y1="1" x2="0" y2="0"><stop offset="0" stop-color="#dba3ab"/><stop offset="0.5" stop-color="#b06f8f"/><stop offset="1" stop-color="#5f3566"/></linearGradient></defs>
<rect x="622" y="25" width="4.8" height="89.8" fill="url(#g52625)"/>
<line x1="626.8" y1="114.8" x2="628.3" y2="114.8" stroke="#333" stroke-width="0.5"/>
<text x="629.5" y="116.0" font-size="3.6" text-anchor="start" fill="#444" >0.0</text>
<line x1="626.8" y1="96.84" x2="628.3" y2="96.84" stroke="#333" stroke-width="0.5"/>
<text x="629.5" y="98.04" font-size="3.6" text-anchor="start" fill="#444" >0.2</text>
<line x1="626.8" y1="78.88" x2="628.3" y2="78.88" stroke="#333" stroke-width="0.5"/>
<text x="629.5" y="80.08" font-size="3.6" text-anchor="start" fill="#444" >0.4</text>
<line x1="626.8" y1="60.92" x2="628.3" y2="60.92" stroke="#333" stroke-width="0.5"/>
<text x="629.5" y="62.120000000000005" font-size="3.6" text-anchor="start" fill="#444" >0.6</text>
<line x1="626.8" y1="42.959999999999994" x2="628.3" y2="42.959999999999994" stroke="#333" stroke-width="0.5"/>
<text x="629.5" y="44.16" font-size="3.6" text-anchor="start" fill="#444" >0.8</text>
<line x1="626.8" y1="25.0" x2="628.3" y2="25.0" stroke="#333" stroke-width="0.5"/>
<text x="629.5" y="26.2" font-size="3.6" text-anchor="start" fill="#444" >1.0</text>
<line x1="548.375" y1="114.8" x2="548.375" y2="116.3" stroke="#333" stroke-width="0.5"/>
<text x="548.375" y="122.5" font-size="6.9" text-anchor="middle" fill="#333" textLength="20.2" lengthAdjust="spacingAndGlyphs" >class 1</text>
<line x1="593.125" y1="114.8" x2="593.125" y2="116.3" stroke="#333" stroke-width="0.5"/>
<text x="593.125" y="122.5" font-size="6.9" text-anchor="middle" fill="#333" textLength="20.2" lengthAdjust="spacingAndGlyphs" >class 2</text>
<text x="570.75" y="129.6" font-size="6.9" text-anchor="middle" fill="#333" textLength="23.5" lengthAdjust="spacingAndGlyphs" >Test Set</text>
<line x1="524.5" y1="47.45" x2="526" y2="47.45" stroke="#333" stroke-width="0.5"/>
<text x="0" y="0" font-size="6.9" text-anchor="end" fill="#333" textLength="21.5" lengthAdjust="spacingAndGlyphs"  transform="translate(523.4,45.85) rotate(-90)">class 1</text>
<line x1="524.5" y1="92.35" x2="526" y2="92.35" stroke="#333" stroke-width="0.5"/>
<text x="0" y="0" font-size="6.9" text-anchor="end" fill="#333" textLength="21.5" lengthAdjust="spacingAndGlyphs"  transform="translate(523.4,90.75) rotate(-90)">class 2</text>
<text x="0" y="0" font-size="6.9" text-anchor="middle" fill="#333" textLength="37.5" lengthAdjust="spacingAndGlyphs"  transform="translate(515.6,69.9) rotate(-90)">Training Set</text>
<rect x="29.3" y="161.25" width="156.89999999999998" height="103.75" fill="#fff"/>
<line x1="35.0" y1="161.25" x2="35.0" y2="265" stroke="#e4e4e4" stroke-width="0.8"/>
<line x1="67.9" y1="161.25" x2="67.9" y2="265" stroke="#e4e4e4" stroke-width="0.8"/>
<line x1="100.8" y1="161.25" x2="100.8" y2="265" stroke="#e4e4e4" stroke-width="0.8"/>
<line x1="133.7" y1="161.25" x2="133.7" y2="265" stroke="#e4e4e4" stroke-width="0.8"/>
<line x1="166.6" y1="161.25" x2="166.6" y2="265" stroke="#e4e4e4" stroke-width="0.8"/>
<line x1="29.3" y1="265.0" x2="186.2" y2="265.0" stroke="#e4e4e4" stroke-width="0.8"/>
<line x1="29.3" y1="245.85" x2="186.2" y2="245.85" stroke="#e4e4e4" stroke-width="0.8"/>
<line x1="29.3" y1="226.7" x2="186.2" y2="226.7" stroke="#e4e4e4" stroke-width="0.8"/>
<line x1="29.3" y1="207.55" x2="186.2" y2="207.55" stroke="#e4e4e4" stroke-width="0.8"/>
<line x1="29.3" y1="188.4" x2="186.2" y2="188.4" stroke="#e4e4e4" stroke-width="0.8"/>
<line x1="29.3" y1="169.25" x2="186.2" y2="169.25" stroke="#e4e4e4" stroke-width="0.8"/>
<path d="M35.90,265.00 C35.92,259.00 35.15,235.00 36.00,229.00 C36.85,223.00 39.83,229.33 41.00,229.00 C42.17,228.67 42.33,226.00 43.00,227.00 C43.67,228.00 44.25,234.33 45.00,235.00 C45.75,235.67 46.67,229.83 47.50,231.00 C48.33,232.17 49.25,241.17 50.00,242.00 C50.75,242.83 51.33,240.67 52.00,236.00 C52.67,231.33 53.33,218.83 54.00,214.00 C54.67,209.17 55.33,205.33 56.00,207.00 C56.67,208.67 57.42,217.33 58.00,224.00 C58.58,230.67 58.83,241.00 59.50,247.00 C60.17,253.00 61.08,257.20 62.00,260.00 C62.92,262.80 60.33,263.08 65.00,263.80 C69.67,264.52 71.00,264.17 90.00,264.30 C109.00,264.43 164.17,264.55 179.00,264.60 L179,265 L35.9,265 Z" fill="#f19381" fill-opacity="0.4"/><path d="M35.50,265.00 C35.58,261.67 35.58,251.17 36.00,245.00 C36.42,238.83 37.08,232.93 38.00,228.00 C38.92,223.07 40.37,215.40 41.50,215.40 C42.63,215.40 43.83,227.15 44.80,228.00 C45.77,228.85 46.45,218.50 47.30,220.50 C48.15,222.50 49.12,238.75 49.90,240.00 C50.68,241.25 51.32,233.33 52.00,228.00 C52.68,222.67 53.42,212.87 54.00,208.00 C54.58,203.13 55.00,199.30 55.50,198.80 C56.00,198.30 56.58,201.38 57.00,205.00 C57.42,208.62 57.62,213.67 58.00,220.50 C58.38,227.33 58.63,238.92 59.30,246.00 C59.97,253.08 60.22,259.92 62.00,263.00 C63.78,266.08 50.50,264.20 70.00,264.50 C89.50,264.80 160.83,264.75 179.00,264.80 L179,265 L35.5,265 Z" fill="#352533" fill-opacity="0.4"/><path d="M35.90,265.00 C35.92,258.67 35.15,233.33 36.00,227.00 C36.85,220.67 39.83,227.50 41.00,227.00 C42.17,226.50 42.33,223.00 43.00,224.00 C43.67,225.00 44.25,232.33 45.00,233.00 C45.75,233.67 46.67,226.83 47.50,228.00 C48.33,229.17 49.25,239.00 50.00,240.00 C50.75,241.00 51.48,238.67 52.00,234.00 C52.52,229.33 52.90,223.37 53.10,212.00 C53.30,200.63 52.73,173.50 53.20,165.80 C53.67,158.10 55.43,160.10 55.90,165.80 C56.37,171.50 55.65,190.63 56.00,200.00 C56.35,209.37 57.45,214.33 58.00,222.00 C58.55,229.67 58.72,239.83 59.30,246.00 C59.88,252.17 60.72,256.08 61.50,259.00 C62.28,261.92 59.25,262.63 64.00,263.50 C68.75,264.37 70.83,264.02 90.00,264.20 C109.17,264.38 164.17,264.53 179.00,264.60 L179,265 L35.9,265 Z" fill="#e55353" fill-opacity="0.4"/><path d="M35.90,265.00 C35.92,263.00 35.32,255.17 36.00,253.00 C36.68,250.83 38.50,252.00 40.00,252.00 C41.50,252.00 43.33,253.17 45.00,253.00 C46.67,252.83 48.67,251.83 50.00,251.00 C51.33,250.17 52.08,249.00 53.00,248.00 C53.92,247.00 54.67,244.83 55.50,245.00 C56.33,245.17 57.25,247.17 58.00,249.00 C58.75,250.83 59.33,253.83 60.00,256.00 C60.67,258.17 61.00,260.58 62.00,262.00 C63.00,263.42 46.50,264.03 66.00,264.50 C85.50,264.97 160.17,264.75 179.00,264.80 L179,265 L35.9,265 Z" fill="#691557" fill-opacity="0.4"/><path d="M35.50,262.00 C35.75,258.33 36.25,245.00 37.00,240.00 C37.75,235.00 39.00,234.00 40.00,232.00 C41.00,230.00 42.00,227.33 43.00,228.00 C44.00,228.67 45.00,235.33 46.00,236.00 C47.00,236.67 48.08,231.33 49.00,232.00 C49.92,232.67 50.67,243.00 51.50,240.00 C52.33,237.00 53.25,219.33 54.00,214.00 C54.75,208.67 55.33,206.33 56.00,208.00 C56.67,209.67 57.30,217.50 58.00,224.00 C58.70,230.50 59.37,241.17 60.20,247.00 C61.03,252.83 61.87,256.25 63.00,259.00 C64.13,261.75 62.50,262.63 67.00,263.50 C71.50,264.37 71.33,264.02 90.00,264.20 C108.67,264.38 164.17,264.53 179.00,264.60" fill="none" stroke="#f2a062" stroke-width="0.7"/><path d="M35.50,264.00 C35.75,260.00 36.42,246.67 37.00,240.00 C37.58,233.33 38.25,228.10 39.00,224.00 C39.75,219.90 40.53,214.73 41.50,215.40 C42.47,216.07 43.83,227.15 44.80,228.00 C45.77,228.85 46.45,218.50 47.30,220.50 C48.15,222.50 49.03,239.08 49.90,240.00 C50.77,240.92 51.73,231.67 52.50,226.00 C53.27,220.33 54.00,210.53 54.50,206.00 C55.00,201.47 55.12,199.13 55.50,198.80 C55.88,198.47 56.38,200.38 56.80,204.00 C57.22,207.62 57.58,213.50 58.00,220.50 C58.42,227.50 58.63,238.92 59.30,246.00 C59.97,253.08 60.22,259.92 62.00,263.00 C63.78,266.08 50.50,264.20 70.00,264.50 C89.50,264.80 160.83,264.75 179.00,264.80" fill="none" stroke="#2a1a2e" stroke-width="0.8"/><path d="M35.50,262.00 C35.75,258.00 36.33,244.00 37.00,238.00 C37.67,232.00 38.67,228.83 39.50,226.00 C40.33,223.17 41.08,220.33 42.00,221.00 C42.92,221.67 44.03,229.33 45.00,230.00 C45.97,230.67 46.88,223.67 47.80,225.00 C48.72,226.33 49.63,239.17 50.50,238.00 C51.37,236.83 52.20,225.50 53.00,218.00 C53.80,210.50 54.63,195.33 55.30,193.00 C55.97,190.67 56.47,198.50 57.00,204.00 C57.53,209.50 58.00,219.00 58.50,226.00 C59.00,233.00 59.33,240.67 60.00,246.00 C60.67,251.33 61.50,255.08 62.50,258.00 C63.50,260.92 61.42,262.47 66.00,263.50 C70.58,264.53 71.17,264.02 90.00,264.20 C108.83,264.38 164.17,264.53 179.00,264.60" fill="none" stroke="#e2473e" stroke-width="0.8"/><path d="M35.50,264.00 C35.75,262.17 36.25,255.17 37.00,253.00 C37.75,250.83 38.67,251.17 40.00,251.00 C41.33,250.83 43.33,252.17 45.00,252.00 C46.67,251.83 48.67,250.83 50.00,250.00 C51.33,249.17 52.08,248.00 53.00,247.00 C53.92,246.00 54.67,243.67 55.50,244.00 C56.33,244.33 57.25,247.00 58.00,249.00 C58.75,251.00 59.33,253.83 60.00,256.00 C60.67,258.17 61.00,260.58 62.00,262.00 C63.00,263.42 46.50,264.03 66.00,264.50 C85.50,264.97 160.17,264.75 179.00,264.80" fill="none" stroke="#5a2a60" stroke-width="0.7"/>
<rect x="29.3" y="161.25" width="156.89999999999998" height="103.75" fill="none" stroke="#858585" stroke-width="1.2"/>
<line x1="35.0" y1="265" x2="35.0" y2="267" stroke="#333" stroke-width="0.6"/>
<text x="35.0" y="272.0" font-size="5.2" text-anchor="middle" fill="#333" >0.0</text>
<line x1="67.9" y1="265" x2="67.9" y2="267" stroke="#333" stroke-width="0.6"/>
<text x="67.9" y="272.0" font-size="5.2" text-anchor="middle" fill="#333" >0.1</text>
<line x1="100.8" y1="265" x2="100.8" y2="267" stroke="#333" stroke-width="0.6"/>
<text x="100.8" y="272.0" font-size="5.2" text-anchor="middle" fill="#333" >0.2</text>
<line x1="133.7" y1="265" x2="133.7" y2="267" stroke="#333" stroke-width="0.6"/>
<text x="133.7" y="272.0" font-size="5.2" text-anchor="middle" fill="#333" >0.3</text>
<line x1="166.6" y1="265" x2="166.6" y2="267" stroke="#333" stroke-width="0.6"/>
<text x="166.6" y="272.0" font-size="5.2" text-anchor="middle" fill="#333" >0.4</text>
<line x1="27.3" y1="265.0" x2="29.3" y2="265.0" stroke="#333" stroke-width="0.6"/>
<text x="25.8" y="266.9" font-size="5.2" text-anchor="end" fill="#333" >0.00</text>
<line x1="27.3" y1="245.85" x2="29.3" y2="245.85" stroke="#333" stroke-width="0.6"/>
<text x="25.8" y="247.75" font-size="5.2" text-anchor="end" fill="#333" >0.05</text>
<line x1="27.3" y1="226.7" x2="29.3" y2="226.7" stroke="#333" stroke-width="0.6"/>
<text x="25.8" y="228.6" font-size="5.2" text-anchor="end" fill="#333" >0.10</text>
<line x1="27.3" y1="207.55" x2="29.3" y2="207.55" stroke="#333" stroke-width="0.6"/>
<text x="25.8" y="209.45000000000002" font-size="5.2" text-anchor="end" fill="#333" >0.15</text>
<line x1="27.3" y1="188.4" x2="29.3" y2="188.4" stroke="#333" stroke-width="0.6"/>
<text x="25.8" y="190.3" font-size="5.2" text-anchor="end" fill="#333" >0.20</text>
<line x1="27.3" y1="169.25" x2="29.3" y2="169.25" stroke="#333" stroke-width="0.6"/>
<text x="25.8" y="171.15" font-size="5.2" text-anchor="end" fill="#333" >0.25</text>
<text x="107.75" y="158.8" font-size="9.3" text-anchor="middle" fill="#111" textLength="35" lengthAdjust="spacingAndGlyphs" stroke="#111" stroke-width="0.18">PEMS-SF</text>
<text x="0" y="0" font-size="9.4" text-anchor="middle" fill="#111" textLength="31" lengthAdjust="spacingAndGlyphs" stroke="#111" stroke-width="0.22" transform="translate(13.1,214.5) rotate(-90)">Density</text>
<rect x="114" y="164.4" width="68.8" height="40.5" rx="1.5" fill="#fff" fill-opacity="0.8" stroke="#d4d4d4" stroke-width="0.7"/>
<rect x="116" y="167.7" width="13.7" height="4.6" fill="#f9cdc3"/>
<text x="134.8" y="172.75" font-size="7.3" text-anchor="start" fill="#222" textLength="45.5" lengthAdjust="spacingAndGlyphs" >Train (class 1)</text>
<rect x="116" y="177.26999999999998" width="13.7" height="4.6" fill="#9d969c"/>
<text x="134.8" y="182.32" font-size="7.3" text-anchor="start" fill="#222" textLength="45.5" lengthAdjust="spacingAndGlyphs" >Train (class 2)</text>
<rect x="116" y="186.83999999999997" width="13.7" height="4.6" fill="#f3abab"/>
<text x="134.8" y="191.89" font-size="7.3" text-anchor="start" fill="#222" textLength="41.5" lengthAdjust="spacingAndGlyphs" >Test (class 1)</text>
<rect x="116" y="196.41" width="13.7" height="4.6" fill="#b994b2"/>
<text x="134.8" y="201.46" font-size="7.3" text-anchor="start" fill="#222" textLength="41.5" lengthAdjust="spacingAndGlyphs" >Test (class 2)</text>
<rect x="207" y="160.5" width="45.0" height="44.75" fill="#c27b95"/>
<text x="229.5" y="185.275" font-size="9.9" text-anchor="middle" fill="#fff" >0.28</text>
<rect x="252.0" y="160.5" width="45.0" height="44.75" fill="#834f80"/>
<text x="274.5" y="185.275" font-size="9.9" text-anchor="middle" fill="#fff" >0.77</text>
<rect x="207" y="205.25" width="45.0" height="44.75" fill="#673a6b"/>
<text x="229.5" y="230.025" font-size="9.9" text-anchor="middle" fill="#fff" >1</text>
<rect x="252.0" y="205.25" width="45.0" height="44.75" fill="#d9a1aa"/>
<text x="274.5" y="230.025" font-size="9.9" text-anchor="middle" fill="#262626" >0</text>
<defs><linearGradient id="g207160" x1="0" y1="1" x2="0" y2="0"><stop offset="0" stop-color="#dba3ab"/><stop offset="0.5" stop-color="#b06f8f"/><stop offset="1" stop-color="#5f3566"/></linearGradient></defs>
<rect x="303" y="160.5" width="4.8" height="89.5" fill="url(#g207160)"/>
<line x1="307.8" y1="250.0" x2="309.3" y2="250.0" stroke="#333" stroke-width="0.5"/>
<text x="310.5" y="251.2" font-size="3.6" text-anchor="start" fill="#444" >0.0</text>
<line x1="307.8" y1="232.1" x2="309.3" y2="232.1" stroke="#333" stroke-width="0.5"/>
<text x="310.5" y="233.29999999999998" font-size="3.6" text-anchor="start" fill="#444" >0.2</text>
<line x1="307.8" y1="214.2" x2="309.3" y2="214.2" stroke="#333" stroke-width="0.5"/>
<text x="310.5" y="215.39999999999998" font-size="3.6" text-anchor="start" fill="#444" >0.4</text>
<line x1="307.8" y1="196.3" x2="309.3" y2="196.3" stroke="#333" stroke-width="0.5"/>
<text x="310.5" y="197.5" font-size="3.6" text-anchor="start" fill="#444" >0.6</text>
<line x1="307.8" y1="178.4" x2="309.3" y2="178.4" stroke="#333" stroke-width="0.5"/>
<text x="310.5" y="179.6" font-size="3.6" text-anchor="start" fill="#444" >0.8</text>
<line x1="307.8" y1="160.5" x2="309.3" y2="160.5" stroke="#333" stroke-width="0.5"/>
<text x="310.5" y="161.7" font-size="3.6" text-anchor="start" fill="#444" >1.0</text>
<line x1="229.5" y1="250" x2="229.5" y2="251.5" stroke="#333" stroke-width="0.5"/>
<text x="229.5" y="257.7" font-size="6.9" text-anchor="middle" fill="#333" textLength="20.2" lengthAdjust="spacingAndGlyphs" >class 1</text>
<line x1="274.5" y1="250" x2="274.5" y2="251.5" stroke="#333" stroke-width="0.5"/>
<text x="274.5" y="257.7" font-size="6.9" text-anchor="middle" fill="#333" textLength="20.2" lengthAdjust="spacingAndGlyphs" >class 2</text>
<text x="252.0" y="264.8" font-size="6.9" text-anchor="middle" fill="#333" textLength="23.5" lengthAdjust="spacingAndGlyphs" >Test Set</text>
<line x1="205.5" y1="182.875" x2="207" y2="182.875" stroke="#333" stroke-width="0.5"/>
<text x="0" y="0" font-size="6.9" text-anchor="end" fill="#333" textLength="21.5" lengthAdjust="spacingAndGlyphs"  transform="translate(204.4,181.275) rotate(-90)">class 1</text>
<line x1="205.5" y1="227.625" x2="207" y2="227.625" stroke="#333" stroke-width="0.5"/>
<text x="0" y="0" font-size="6.9" text-anchor="end" fill="#333" textLength="21.5" lengthAdjust="spacingAndGlyphs"  transform="translate(204.4,226.025) rotate(-90)">class 2</text>
<text x="0" y="0" font-size="6.9" text-anchor="middle" fill="#333" textLength="37.5" lengthAdjust="spacingAndGlyphs"  transform="translate(196.6,205.25) rotate(-90)">Training Set</text>
<rect x="344.5" y="161.25" width="156.75" height="103.75" fill="#fff"/>
<line x1="366.6" y1="161.25" x2="366.6" y2="265" stroke="#e4e4e4" stroke-width="0.8"/>
<line x1="394.90000000000003" y1="161.25" x2="394.90000000000003" y2="265" stroke="#e4e4e4" stroke-width="0.8"/>
<line x1="423.20000000000005" y1="161.25" x2="423.20000000000005" y2="265" stroke="#e4e4e4" stroke-width="0.8"/>
<line x1="451.5" y1="161.25" x2="451.5" y2="265" stroke="#e4e4e4" stroke-width="0.8"/>
<line x1="479.8" y1="161.25" x2="479.8" y2="265" stroke="#e4e4e4" stroke-width="0.8"/>
<line x1="344.5" y1="265.0" x2="501.25" y2="265.0" stroke="#e4e4e4" stroke-width="0.8"/>
<line x1="344.5" y1="250.2" x2="501.25" y2="250.2" stroke="#e4e4e4" stroke-width="0.8"/>
<line x1="344.5" y1="235.4" x2="501.25" y2="235.4" stroke="#e4e4e4" stroke-width="0.8"/>
<line x1="344.5" y1="220.6" x2="501.25" y2="220.6" stroke="#e4e4e4" stroke-width="0.8"/>
<line x1="344.5" y1="205.8" x2="501.25" y2="205.8" stroke="#e4e4e4" stroke-width="0.8"/>
<line x1="344.5" y1="191.0" x2="501.25" y2="191.0" stroke="#e4e4e4" stroke-width="0.8"/>
<line x1="344.5" y1="176.2" x2="501.25" y2="176.2" stroke="#e4e4e4" stroke-width="0.8"/>
<line x1="344.5" y1="161.39999999999998" x2="501.25" y2="161.39999999999998" stroke="#e4e4e4" stroke-width="0.8"/>
<path d="M360.00,264.80 C362.50,264.67 370.83,264.47 375.00,264.00 C379.17,263.53 382.17,263.67 385.00,262.00 C387.83,260.33 390.00,258.00 392.00,254.00 C394.00,250.00 395.50,244.00 397.00,238.00 C398.50,232.00 399.83,223.67 401.00,218.00 C402.17,212.33 402.83,207.67 404.00,204.00 C405.17,200.33 406.67,196.33 408.00,196.00 C409.33,195.67 410.67,198.33 412.00,202.00 C413.33,205.67 414.67,212.67 416.00,218.00 C417.33,223.33 418.33,229.00 420.00,234.00 C421.67,239.00 423.50,244.17 426.00,248.00 C428.50,251.83 431.00,254.67 435.00,257.00 C439.00,259.33 444.17,260.75 450.00,262.00 C455.83,263.25 464.17,264.00 470.00,264.50 C475.83,265.00 482.50,264.92 485.00,265.00 L485,265 L360,265 Z" fill="#f19381" fill-opacity="0.4"/><path d="M352.00,264.80 C353.67,264.67 358.33,265.13 362.00,264.00 C365.67,262.87 370.33,260.17 374.00,258.00 C377.67,255.83 381.50,253.67 384.00,251.00 C386.50,248.33 387.58,244.80 389.00,242.00 C390.42,239.20 391.50,237.53 392.50,234.20 C393.50,230.87 394.25,225.37 395.00,222.00 C395.75,218.63 396.22,215.88 397.00,214.00 C397.78,212.12 398.87,211.03 399.70,210.70 C400.53,210.37 401.17,211.02 402.00,212.00 C402.83,212.98 403.25,213.47 404.70,216.60 C406.15,219.73 408.72,226.27 410.70,230.80 C412.68,235.33 415.05,241.10 416.60,243.80 C418.15,246.50 418.82,246.20 420.00,247.00 C421.18,247.80 422.10,246.95 423.70,248.60 C425.30,250.25 427.23,254.53 429.60,256.90 C431.97,259.27 435.17,261.48 437.90,262.80 C440.63,264.12 444.65,264.47 446.00,264.80 L446,265 L352,265 Z" fill="#352533" fill-opacity="0.4"/><path d="M355.00,264.80 C357.50,264.67 365.83,264.63 370.00,264.00 C374.17,263.37 377.33,262.67 380.00,261.00 C382.67,259.33 384.33,256.83 386.00,254.00 C387.67,251.17 388.83,248.00 390.00,244.00 C391.17,240.00 392.02,234.50 393.00,230.00 C393.98,225.50 394.98,222.33 395.90,217.00 C396.82,211.67 397.65,204.17 398.50,198.00 C399.35,191.83 400.25,184.67 401.00,180.00 C401.75,175.33 402.33,172.38 403.00,170.00 C403.67,167.62 404.33,166.03 405.00,165.70 C405.67,165.37 406.33,165.95 407.00,168.00 C407.67,170.05 408.28,174.45 409.00,178.00 C409.72,181.55 410.58,185.97 411.30,189.30 C412.02,192.63 412.42,192.67 413.30,198.00 C414.18,203.33 415.27,214.25 416.60,221.30 C417.93,228.35 419.73,235.55 421.30,240.30 C422.87,245.05 423.63,246.85 426.00,249.80 C428.37,252.75 431.53,255.95 435.50,258.00 C439.47,260.05 444.05,261.02 449.80,262.10 C455.55,263.18 464.13,264.02 470.00,264.50 C475.87,264.98 482.50,264.92 485.00,265.00 L485,265 L355,265 Z" fill="#e55353" fill-opacity="0.4"/><path d="M350.00,264.80 C351.33,264.58 355.33,264.38 358.00,263.50 C360.67,262.62 363.67,260.75 366.00,259.50 C368.33,258.25 370.17,257.50 372.00,256.00 C373.83,254.50 375.50,252.67 377.00,250.50 C378.50,248.33 379.67,245.92 381.00,243.00 C382.33,240.08 383.92,236.67 385.00,233.00 C386.08,229.33 386.80,224.67 387.50,221.00 C388.20,217.33 388.68,213.58 389.20,211.00 C389.72,208.42 390.13,206.73 390.60,205.50 C391.07,204.27 391.52,203.52 392.00,203.60 C392.48,203.68 393.00,204.27 393.50,206.00 C394.00,207.73 394.50,211.00 395.00,214.00 C395.50,217.00 395.92,220.33 396.50,224.00 C397.08,227.67 397.75,232.50 398.50,236.00 C399.25,239.50 399.92,242.33 401.00,245.00 C402.08,247.67 403.50,249.67 405.00,252.00 C406.50,254.33 407.83,257.17 410.00,259.00 C412.17,260.83 414.67,262.07 418.00,263.00 C421.33,263.93 426.33,264.27 430.00,264.60 C433.67,264.93 438.33,264.93 440.00,265.00 L440,265 L350,265 Z" fill="#691557" fill-opacity="0.4"/><path d="M360.00,264.80 C362.50,264.67 370.83,264.47 375.00,264.00 C379.17,263.53 382.17,263.67 385.00,262.00 C387.83,260.33 390.00,258.00 392.00,254.00 C394.00,250.00 395.50,244.00 397.00,238.00 C398.50,232.00 399.83,223.67 401.00,218.00 C402.17,212.33 402.83,207.67 404.00,204.00 C405.17,200.33 406.67,196.33 408.00,196.00 C409.33,195.67 410.67,198.33 412.00,202.00 C413.33,205.67 414.67,212.67 416.00,218.00 C417.33,223.33 418.33,229.00 420.00,234.00 C421.67,239.00 423.50,244.17 426.00,248.00 C428.50,251.83 431.00,254.67 435.00,257.00 C439.00,259.33 444.17,260.75 450.00,262.00 C455.83,263.25 464.17,264.00 470.00,264.50 C475.83,265.00 482.50,264.92 485.00,265.00" fill="none" stroke="#f2a062" stroke-width="0.7"/><path d="M352.00,264.80 C353.67,264.67 358.33,265.13 362.00,264.00 C365.67,262.87 370.33,260.17 374.00,258.00 C377.67,255.83 381.50,253.67 384.00,251.00 C386.50,248.33 387.58,244.80 389.00,242.00 C390.42,239.20 391.50,237.53 392.50,234.20 C393.50,230.87 394.25,225.37 395.00,222.00 C395.75,218.63 396.22,215.88 397.00,214.00 C397.78,212.12 398.87,211.03 399.70,210.70 C400.53,210.37 401.17,211.02 402.00,212.00 C402.83,212.98 403.25,213.47 404.70,216.60 C406.15,219.73 408.72,226.27 410.70,230.80 C412.68,235.33 415.05,241.10 416.60,243.80 C418.15,246.50 418.82,246.20 420.00,247.00 C421.18,247.80 422.10,246.95 423.70,248.60 C425.30,250.25 427.23,254.53 429.60,256.90 C431.97,259.27 435.17,261.48 437.90,262.80 C440.63,264.12 444.65,264.47 446.00,264.80" fill="none" stroke="#2a1a2e" stroke-width="0.8"/><path d="M355.00,264.80 C357.50,264.67 365.83,264.63 370.00,264.00 C374.17,263.37 377.33,262.67 380.00,261.00 C382.67,259.33 384.33,256.83 386.00,254.00 C387.67,251.17 388.83,248.00 390.00,244.00 C391.17,240.00 392.02,234.50 393.00,230.00 C393.98,225.50 394.98,222.33 395.90,217.00 C396.82,211.67 397.65,204.17 398.50,198.00 C399.35,191.83 400.25,184.67 401.00,180.00 C401.75,175.33 402.33,172.38 403.00,170.00 C403.67,167.62 404.33,166.03 405.00,165.70 C405.67,165.37 406.33,165.95 407.00,168.00 C407.67,170.05 408.28,174.45 409.00,178.00 C409.72,181.55 410.58,185.97 411.30,189.30 C412.02,192.63 412.42,192.67 413.30,198.00 C414.18,203.33 415.27,214.25 416.60,221.30 C417.93,228.35 419.73,235.55 421.30,240.30 C422.87,245.05 423.63,246.85 426.00,249.80 C428.37,252.75 431.53,255.95 435.50,258.00 C439.47,260.05 444.05,261.02 449.80,262.10 C455.55,263.18 464.13,264.02 470.00,264.50 C475.87,264.98 482.50,264.92 485.00,265.00" fill="none" stroke="#e2473e" stroke-width="0.8"/><path d="M350.00,264.80 C351.33,264.58 355.33,264.38 358.00,263.50 C360.67,262.62 363.67,260.75 366.00,259.50 C368.33,258.25 370.17,257.50 372.00,256.00 C373.83,254.50 375.50,252.67 377.00,250.50 C378.50,248.33 379.67,245.92 381.00,243.00 C382.33,240.08 383.92,236.67 385.00,233.00 C386.08,229.33 386.80,224.67 387.50,221.00 C388.20,217.33 388.68,213.58 389.20,211.00 C389.72,208.42 390.13,206.73 390.60,205.50 C391.07,204.27 391.52,203.52 392.00,203.60 C392.48,203.68 393.00,204.27 393.50,206.00 C394.00,207.73 394.50,211.00 395.00,214.00 C395.50,217.00 395.92,220.33 396.50,224.00 C397.08,227.67 397.75,232.50 398.50,236.00 C399.25,239.50 399.92,242.33 401.00,245.00 C402.08,247.67 403.50,249.67 405.00,252.00 C406.50,254.33 407.83,257.17 410.00,259.00 C412.17,260.83 414.67,262.07 418.00,263.00 C421.33,263.93 426.33,264.27 430.00,264.60 C433.67,264.93 438.33,264.93 440.00,265.00" fill="none" stroke="#5a2a60" stroke-width="0.8"/>
<rect x="344.5" y="161.25" width="156.75" height="103.75" fill="none" stroke="#858585" stroke-width="1.2"/>
<line x1="366.6" y1="265" x2="366.6" y2="267" stroke="#333" stroke-width="0.6"/>
<text x="366.6" y="272.0" font-size="5.2" text-anchor="middle" fill="#333" >−50</text>
<line x1="394.90000000000003" y1="265" x2="394.90000000000003" y2="267" stroke="#333" stroke-width="0.6"/>
<text x="394.90000000000003" y="272.0" font-size="5.2" text-anchor="middle" fill="#333" >0</text>
<line x1="423.20000000000005" y1="265" x2="423.20000000000005" y2="267" stroke="#333" stroke-width="0.6"/>
<text x="423.20000000000005" y="272.0" font-size="5.2" text-anchor="middle" fill="#333" >50</text>
<line x1="451.5" y1="265" x2="451.5" y2="267" stroke="#333" stroke-width="0.6"/>
<text x="451.5" y="272.0" font-size="5.2" text-anchor="middle" fill="#333" >100</text>
<line x1="479.8" y1="265" x2="479.8" y2="267" stroke="#333" stroke-width="0.6"/>
<text x="479.8" y="272.0" font-size="5.2" text-anchor="middle" fill="#333" >150</text>
<line x1="342.5" y1="265.0" x2="344.5" y2="265.0" stroke="#333" stroke-width="0.6"/>
<text x="341.0" y="266.9" font-size="5.2" text-anchor="end" fill="#333" >0.00</text>
<line x1="342.5" y1="250.2" x2="344.5" y2="250.2" stroke="#333" stroke-width="0.6"/>
<text x="341.0" y="252.1" font-size="5.2" text-anchor="end" fill="#333" >0.02</text>
<line x1="342.5" y1="235.4" x2="344.5" y2="235.4" stroke="#333" stroke-width="0.6"/>
<text x="341.0" y="237.3" font-size="5.2" text-anchor="end" fill="#333" >0.04</text>
<line x1="342.5" y1="220.6" x2="344.5" y2="220.6" stroke="#333" stroke-width="0.6"/>
<text x="341.0" y="222.5" font-size="5.2" text-anchor="end" fill="#333" >0.06</text>
<line x1="342.5" y1="205.8" x2="344.5" y2="205.8" stroke="#333" stroke-width="0.6"/>
<text x="341.0" y="207.70000000000002" font-size="5.2" text-anchor="end" fill="#333" >0.08</text>
<line x1="342.5" y1="191.0" x2="344.5" y2="191.0" stroke="#333" stroke-width="0.6"/>
<text x="341.0" y="192.9" font-size="5.2" text-anchor="end" fill="#333" >0.10</text>
<line x1="342.5" y1="176.2" x2="344.5" y2="176.2" stroke="#333" stroke-width="0.6"/>
<text x="341.0" y="178.1" font-size="5.2" text-anchor="end" fill="#333" >0.12</text>
<line x1="342.5" y1="161.39999999999998" x2="344.5" y2="161.39999999999998" stroke="#333" stroke-width="0.6"/>
<text x="341.0" y="163.29999999999998" font-size="5.2" text-anchor="end" fill="#333" >0.14</text>
<text x="422.875" y="158.6" font-size="9.3" text-anchor="middle" fill="#111" textLength="81.3" lengthAdjust="spacingAndGlyphs" stroke="#111" stroke-width="0.18">SelfRegulationSCP1</text>
<text x="0" y="0" font-size="9.4" text-anchor="middle" fill="#111" textLength="31" lengthAdjust="spacingAndGlyphs" stroke="#111" stroke-width="0.22" transform="translate(328,214.5) rotate(-90)">Density</text>
<rect x="429.4" y="164.5" width="68.8" height="40.5" rx="1.5" fill="#fff" fill-opacity="0.8" stroke="#d4d4d4" stroke-width="0.7"/>
<rect x="431.4" y="167.79999999999998" width="13.7" height="4.6" fill="#f9cdc3"/>
<text x="450.2" y="172.85" font-size="7.3" text-anchor="start" fill="#222" textLength="45.5" lengthAdjust="spacingAndGlyphs" >Train (class 1)</text>
<rect x="431.4" y="177.36999999999998" width="13.7" height="4.6" fill="#9d969c"/>
<text x="450.2" y="182.42" font-size="7.3" text-anchor="start" fill="#222" textLength="45.5" lengthAdjust="spacingAndGlyphs" >Train (class 2)</text>
<rect x="431.4" y="186.94" width="13.7" height="4.6" fill="#f3abab"/>
<text x="450.2" y="191.99" font-size="7.3" text-anchor="start" fill="#222" textLength="41.5" lengthAdjust="spacingAndGlyphs" >Test (class 1)</text>
<rect x="431.4" y="196.51" width="13.7" height="4.6" fill="#b994b2"/>
<text x="450.2" y="201.56" font-size="7.3" text-anchor="start" fill="#222" textLength="41.5" lengthAdjust="spacingAndGlyphs" >Test (class 2)</text>
<rect x="523" y="160.5" width="44.5" height="44.75" fill="#c27b95"/>
<text x="545.25" y="185.275" font-size="9.9" text-anchor="middle" fill="#fff" >0.25</text>
<rect x="567.5" y="160.5" width="44.5" height="44.75" fill="#663a6b"/>
<text x="589.75" y="185.275" font-size="9.9" text-anchor="middle" fill="#fff" >1</text>
<rect x="523" y="205.25" width="44.5" height="44.75" fill="#d9a1aa"/>
<text x="545.25" y="230.025" font-size="9.9" text-anchor="middle" fill="#262626" >0</text>
<rect x="567.5" y="205.25" width="44.5" height="44.75" fill="#a9648a"/>
<text x="589.75" y="230.025" font-size="9.9" text-anchor="middle" fill="#fff" >0.52</text>
<defs><linearGradient id="g523160" x1="0" y1="1" x2="0" y2="0"><stop offset="0" stop-color="#dba3ab"/><stop offset="0.5" stop-color="#b06f8f"/><stop offset="1" stop-color="#5f3566"/></linearGradient></defs>
<rect x="618.75" y="160.5" width="4.8" height="89.5" fill="url(#g523160)"/>
<line x1="623.55" y1="250.0" x2="625.05" y2="250.0" stroke="#333" stroke-width="0.5"/>
<text x="626.25" y="251.2" font-size="3.6" text-anchor="start" fill="#444" >0.0</text>
<line x1="623.55" y1="232.1" x2="625.05" y2="232.1" stroke="#333" stroke-width="0.5"/>
<text x="626.25" y="233.29999999999998" font-size="3.6" text-anchor="start" fill="#444" >0.2</text>
<line x1="623.55" y1="214.2" x2="625.05" y2="214.2" stroke="#333" stroke-width="0.5"/>
<text x="626.25" y="215.39999999999998" font-size="3.6" text-anchor="start" fill="#444" >0.4</text>
<line x1="623.55" y1="196.3" x2="625.05" y2="196.3" stroke="#333" stroke-width="0.5"/>
<text x="626.25" y="197.5" font-size="3.6" text-anchor="start" fill="#444" >0.6</text>
<line x1="623.55" y1="178.4" x2="625.05" y2="178.4" stroke="#333" stroke-width="0.5"/>
<text x="626.25" y="179.6" font-size="3.6" text-anchor="start" fill="#444" >0.8</text>
<line x1="623.55" y1="160.5" x2="625.05" y2="160.5" stroke="#333" stroke-width="0.5"/>
<text x="626.25" y="161.7" font-size="3.6" text-anchor="start" fill="#444" >1.0</text>
<line x1="545.25" y1="250" x2="545.25" y2="251.5" stroke="#333" stroke-width="0.5"/>
<text x="545.25" y="257.7" font-size="6.9" text-anchor="middle" fill="#333" textLength="20.2" lengthAdjust="spacingAndGlyphs" >class 1</text>
<line x1="589.75" y1="250" x2="589.75" y2="251.5" stroke="#333" stroke-width="0.5"/>
<text x="589.75" y="257.7" font-size="6.9" text-anchor="middle" fill="#333" textLength="20.2" lengthAdjust="spacingAndGlyphs" >class 2</text>
<text x="567.5" y="264.8" font-size="6.9" text-anchor="middle" fill="#333" textLength="23.5" lengthAdjust="spacingAndGlyphs" >Test Set</text>
<line x1="521.5" y1="182.875" x2="523" y2="182.875" stroke="#333" stroke-width="0.5"/>
<text x="0" y="0" font-size="6.9" text-anchor="end" fill="#333" textLength="21.5" lengthAdjust="spacingAndGlyphs"  transform="translate(520.4,181.275) rotate(-90)">class 1</text>
<line x1="521.5" y1="227.625" x2="523" y2="227.625" stroke="#333" stroke-width="0.5"/>
<text x="0" y="0" font-size="6.9" text-anchor="end" fill="#333" textLength="21.5" lengthAdjust="spacingAndGlyphs"  transform="translate(520.4,226.025) rotate(-90)">class 2</text>
<text x="0" y="0" font-size="6.9" text-anchor="middle" fill="#333" textLength="37.5" lengthAdjust="spacingAndGlyphs"  transform="translate(512.6,205.25) rotate(-90)">Training Set</text>
<text x="0.5" y="283.9" font-family="'Liberation Serif', serif" font-size="12.5" fill="#111" textLength="637" lengthAdjust="spacing"><tspan font-style="italic">Figure 2.</tspan> Histograms representing sequences from the two selected classes of exemplary datasets with train/test distribution shift. The</text></svg></body></html>
